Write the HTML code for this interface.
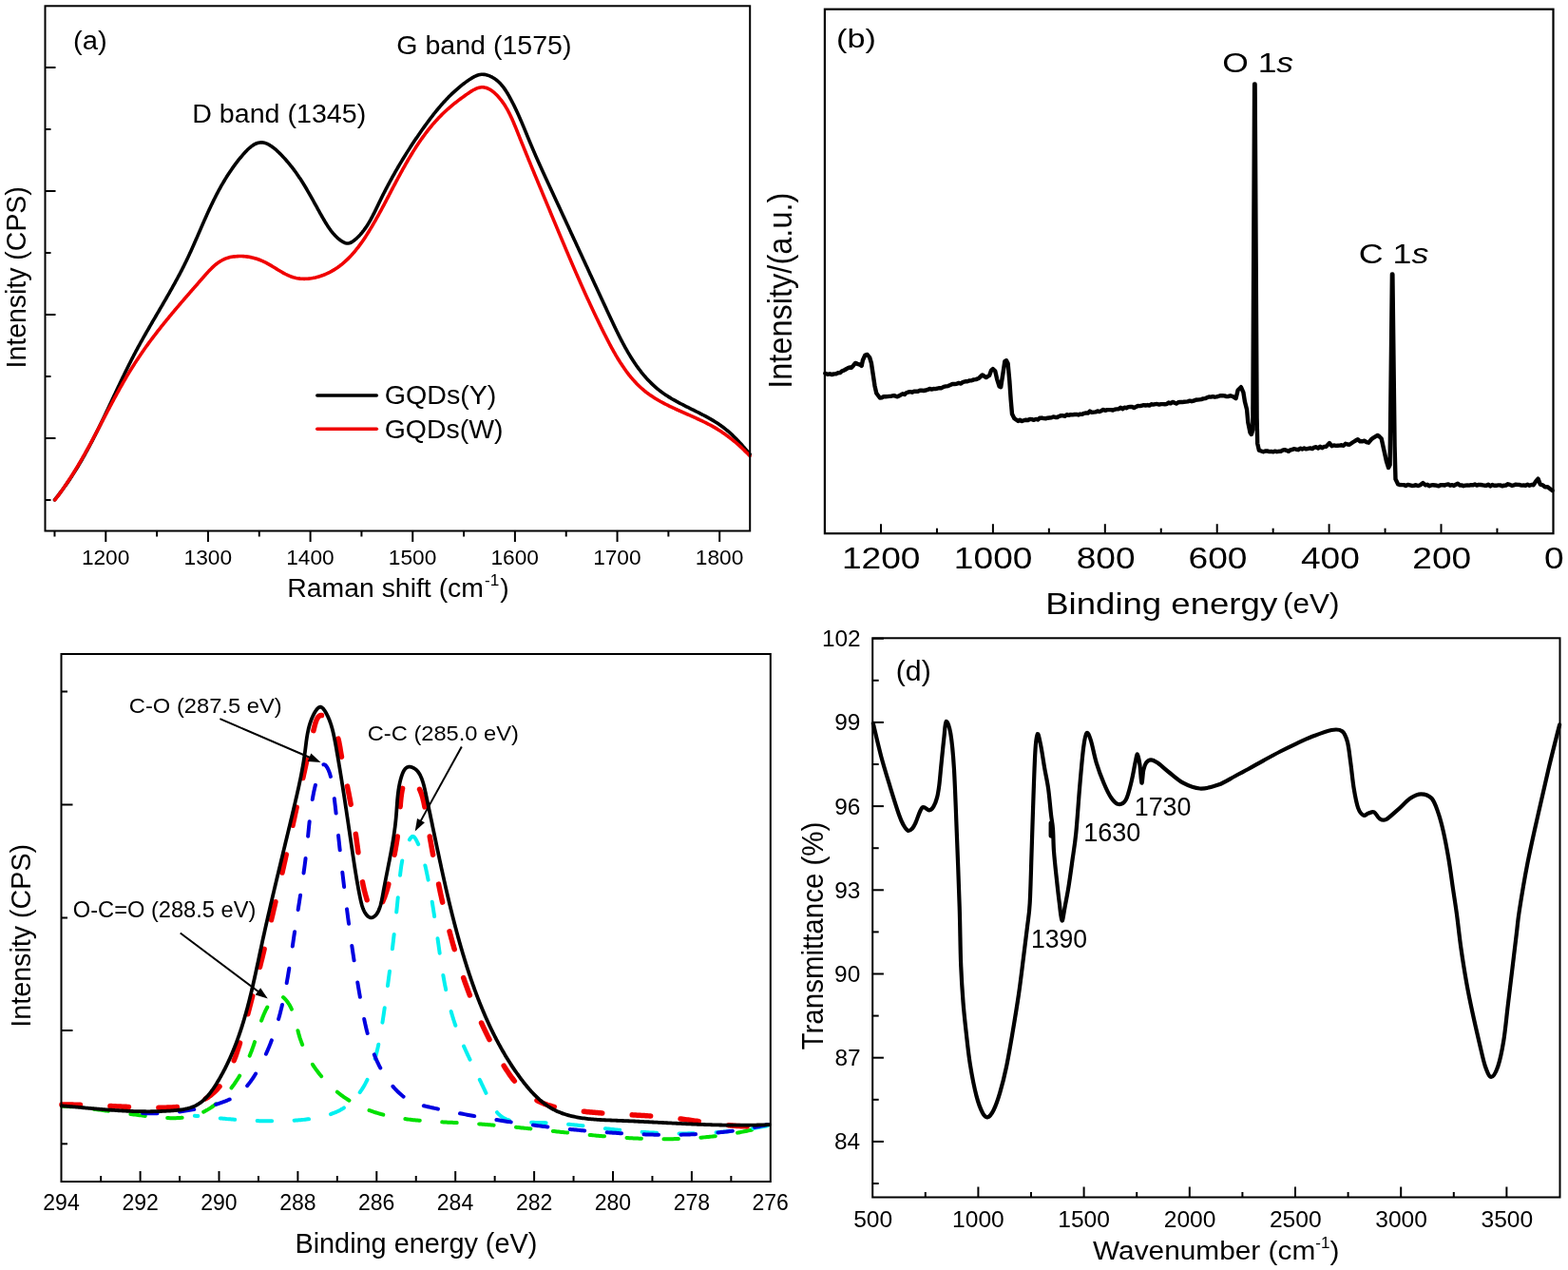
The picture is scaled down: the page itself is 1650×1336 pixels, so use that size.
<!DOCTYPE html><html><head><meta charset="utf-8"><style>html,body{margin:0;padding:0;background:#fff;}body{width:1650px;height:1336px;overflow:hidden;}svg{display:block;}</style></head><body>
<svg width="1650" height="1336" viewBox="0 0 1650 1336" font-family="'Liberation Sans', Arial, sans-serif">
<path d="M57.5,525.83 L58.46,524.65 L59.41,523.46 L60.35,522.26 L61.28,521.06 L62.21,519.86 L63.13,518.65 L64.04,517.44 L64.95,516.23 L65.84,515.01 L66.73,513.79 L67.62,512.56 L68.49,511.33 L69.36,510.1 L70.23,508.86 L71.08,507.62 L71.93,506.38 L72.78,505.13 L73.61,503.89 L74.44,502.63 L75.27,501.38 L76.09,500.12 L76.9,498.86 L77.71,497.59 L78.51,496.32 L79.31,495.05 L80.1,493.78 L80.88,492.5 L81.66,491.22 L82.44,489.94 L83.21,488.65 L83.97,487.37 L84.73,486.08 L85.49,484.78 L86.24,483.49 L86.98,482.19 L87.73,480.89 L88.46,479.59 L89.19,478.28 L89.92,476.97 L90.65,475.66 L91.37,474.35 L92.08,473.04 L92.8,471.72 L93.5,470.41 L94.21,469.09 L94.91,467.76 L95.61,466.44 L96.3,465.12 L97,463.79 L97.68,462.46 L98.37,461.13 L99.05,459.8 L99.73,458.46 L100.41,457.13 L101.08,455.79 L101.75,454.46 L102.42,453.12 L103.09,451.78 L103.75,450.43 L104.41,449.09 L105.07,447.75 L105.73,446.4 L106.39,445.05 L107.04,443.71 L107.69,442.36 L108.35,441.01 L109,439.66 L109.64,438.31 L110.29,436.95 L110.94,435.6 L111.58,434.25 L112.22,432.89 L112.87,431.54 L113.51,430.19 L114.15,428.83 L114.79,427.47 L115.43,426.12 L116.07,424.76 L116.71,423.4 L117.35,422.05 L117.98,420.69 L118.62,419.33 L119.26,417.97 L119.9,416.62 L120.54,415.26 L121.18,413.9 L121.82,412.54 L122.46,411.19 L123.1,409.83 L123.74,408.47 L124.38,407.11 L125.03,405.76 L125.67,404.4 L126.31,403.05 L126.96,401.69 L127.61,400.34 L128.26,398.98 L128.91,397.63 L129.56,396.28 L130.22,394.93 L130.87,393.58 L131.53,392.23 L132.19,390.88 L132.85,389.53 L133.52,388.18 L134.18,386.83 L134.85,385.49 L135.52,384.14 L136.19,382.8 L136.87,381.46 L137.55,380.12 L138.23,378.78 L138.92,377.44 L139.61,376.11 L140.3,374.77 L140.99,373.44 L141.69,372.11 L142.39,370.78 L143.09,369.45 L143.8,368.12 L144.51,366.8 L145.23,365.47 L145.95,364.15 L146.67,362.83 L147.39,361.51 L148.12,360.2 L148.85,358.88 L149.59,357.57 L150.32,356.25 L151.06,354.94 L151.8,353.63 L152.54,352.32 L153.29,351.01 L154.03,349.7 L154.78,348.4 L155.53,347.09 L156.28,345.78 L157.04,344.48 L157.79,343.17 L158.55,341.87 L159.3,340.57 L160.06,339.27 L160.82,337.96 L161.58,336.66 L162.34,335.36 L163.1,334.06 L163.86,332.76 L164.62,331.46 L165.38,330.16 L166.14,328.86 L166.9,327.56 L167.66,326.26 L168.42,324.96 L169.18,323.66 L169.94,322.36 L170.7,321.06 L171.46,319.76 L172.21,318.46 L172.97,317.15 L173.72,315.85 L174.48,314.55 L175.23,313.25 L175.98,311.94 L176.72,310.64 L177.47,309.33 L178.21,308.03 L178.96,306.72 L179.69,305.41 L180.43,304.1 L181.17,302.79 L181.9,301.48 L182.63,300.17 L183.36,298.86 L184.08,297.54 L184.8,296.23 L185.52,294.91 L186.23,293.59 L186.94,292.27 L187.65,290.95 L188.35,289.63 L189.05,288.3 L189.75,286.97 L190.44,285.65 L191.13,284.32 L191.81,282.98 L192.49,281.65 L193.16,280.32 L193.83,278.98 L194.5,277.64 L195.16,276.3 L195.81,274.95 L196.46,273.61 L197.1,272.26 L197.74,270.91 L198.38,269.56 L199.01,268.2 L199.64,266.85 L200.26,265.49 L200.88,264.13 L201.5,262.77 L202.11,261.41 L202.72,260.04 L203.33,258.68 L203.94,257.31 L204.54,255.95 L205.14,254.58 L205.74,253.21 L206.34,251.84 L206.94,250.47 L207.54,249.1 L208.13,247.73 L208.73,246.36 L209.32,244.99 L209.92,243.62 L210.51,242.25 L211.11,240.88 L211.7,239.51 L212.3,238.13 L212.9,236.76 L213.5,235.39 L214.1,234.02 L214.7,232.65 L215.3,231.29 L215.91,229.92 L216.52,228.55 L217.13,227.18 L217.74,225.82 L218.36,224.46 L218.98,223.09 L219.61,221.73 L220.24,220.37 L220.87,219.01 L221.5,217.66 L222.15,216.3 L222.79,214.95 L223.44,213.6 L224.1,212.25 L224.76,210.9 L225.43,209.55 L226.1,208.21 L226.78,206.87 L227.47,205.53 L228.16,204.2 L228.86,202.86 L229.56,201.53 L230.27,200.21 L231,198.88 L231.72,197.56 L232.46,196.24 L233.2,194.92 L233.96,193.61 L234.72,192.3 L235.49,191 L236.27,189.7 L237.06,188.4 L237.86,187.1 L238.66,185.81 L239.48,184.53 L240.31,183.24 L241.15,181.97 L242,180.69 L242.86,179.42 L243.73,178.15 L244.61,176.89 L245.51,175.64 L246.41,174.38 L247.33,173.14 L248.26,171.9 L249.21,170.66 L250.16,169.43 L251.13,168.2 L252.11,166.98 L253.11,165.76 L254.12,164.55 L255.14,163.34 L256.18,162.14 L257.23,160.96 L258.29,159.8 L259.37,158.66 L260.46,157.57 L261.57,156.51 L262.68,155.51 L263.81,154.56 L264.96,153.68 L266.11,152.87 L267.27,152.14 L268.45,151.5 L269.64,150.95 L270.84,150.5 L272.05,150.15 L273.27,149.92 L274.5,149.82 L275.74,149.84 L276.99,149.99 L278.25,150.26 L279.51,150.65 L280.77,151.14 L282.04,151.73 L283.31,152.41 L284.58,153.17 L285.84,154.01 L287.09,154.92 L288.34,155.89 L289.58,156.92 L290.81,157.98 L292.03,159.09 L293.23,160.23 L294.41,161.39 L295.58,162.57 L296.72,163.76 L297.85,164.95 L298.95,166.14 L300.03,167.33 L301.09,168.52 L302.13,169.72 L303.16,170.91 L304.16,172.11 L305.15,173.31 L306.11,174.51 L307.07,175.72 L308,176.92 L308.92,178.13 L309.83,179.34 L310.72,180.55 L311.59,181.77 L312.45,182.98 L313.3,184.2 L314.14,185.42 L314.97,186.65 L315.78,187.87 L316.59,189.1 L317.38,190.34 L318.17,191.57 L318.94,192.81 L319.71,194.05 L320.47,195.29 L321.23,196.54 L321.97,197.79 L322.72,199.04 L323.45,200.29 L324.18,201.55 L324.91,202.81 L325.63,204.08 L326.35,205.35 L327.07,206.62 L327.79,207.9 L328.5,209.18 L329.22,210.46 L329.93,211.75 L330.65,213.04 L331.36,214.33 L332.08,215.63 L332.8,216.93 L333.52,218.24 L334.24,219.55 L334.97,220.86 L335.71,222.18 L336.45,223.51 L337.19,224.83 L337.94,226.16 L338.7,227.5 L339.46,228.84 L340.24,230.19 L341.02,231.53 L341.81,232.88 L342.62,234.22 L343.44,235.56 L344.28,236.88 L345.13,238.19 L346,239.49 L346.9,240.78 L347.81,242.04 L348.75,243.28 L349.72,244.49 L350.71,245.67 L351.73,246.83 L352.78,247.95 L353.86,249.03 L354.98,250.08 L356.13,251.08 L357.31,252.04 L358.53,252.95 L359.8,253.81 L361.09,254.58 L362.4,255.22 L363.72,255.7 L365.05,255.98 L366.36,256 L367.65,255.77 L368.93,255.3 L370.18,254.64 L371.4,253.85 L372.59,252.96 L373.75,252.01 L374.87,251.03 L375.97,250.03 L377.03,249 L378.06,247.94 L379.07,246.86 L380.05,245.75 L381,244.63 L381.92,243.48 L382.83,242.31 L383.7,241.12 L384.56,239.91 L385.4,238.68 L386.21,237.44 L387.01,236.18 L387.8,234.91 L388.56,233.62 L389.31,232.33 L390.05,231.01 L390.77,229.69 L391.49,228.36 L392.19,227.02 L392.88,225.67 L393.57,224.32 L394.25,222.96 L394.92,221.59 L395.59,220.22 L396.25,218.85 L396.92,217.48 L397.58,216.1 L398.24,214.73 L398.9,213.35 L399.57,211.98 L400.24,210.61 L400.91,209.25 L401.58,207.88 L402.26,206.52 L402.94,205.17 L403.63,203.81 L404.32,202.46 L405.01,201.11 L405.7,199.77 L406.4,198.42 L407.1,197.08 L407.81,195.75 L408.52,194.41 L409.23,193.08 L409.94,191.75 L410.66,190.42 L411.38,189.1 L412.11,187.78 L412.84,186.46 L413.57,185.15 L414.3,183.83 L415.04,182.52 L415.78,181.22 L416.53,179.91 L417.27,178.61 L418.03,177.31 L418.78,176.01 L419.54,174.72 L420.3,173.43 L421.07,172.14 L421.83,170.85 L422.61,169.57 L423.38,168.28 L424.16,167 L424.94,165.73 L425.73,164.45 L426.52,163.18 L427.31,161.91 L428.1,160.64 L428.9,159.38 L429.7,158.12 L430.51,156.86 L431.32,155.6 L432.13,154.35 L432.95,153.09 L433.77,151.84 L434.59,150.6 L435.42,149.35 L436.25,148.11 L437.08,146.87 L437.92,145.63 L438.76,144.39 L439.6,143.16 L440.45,141.92 L441.3,140.69 L442.15,139.47 L443.01,138.24 L443.87,137.02 L444.73,135.8 L445.6,134.58 L446.47,133.36 L447.35,132.15 L448.23,130.94 L449.11,129.73 L450,128.52 L450.89,127.32 L451.79,126.12 L452.69,124.92 L453.59,123.73 L454.51,122.54 L455.42,121.36 L456.35,120.18 L457.28,119 L458.21,117.83 L459.16,116.67 L460.11,115.51 L461.06,114.35 L462.03,113.21 L463,112.07 L463.98,110.93 L464.97,109.8 L465.96,108.68 L466.97,107.56 L467.98,106.46 L469.01,105.36 L470.04,104.26 L471.08,103.18 L472.13,102.1 L473.19,101.03 L474.26,99.97 L475.35,98.92 L476.44,97.88 L477.55,96.85 L478.66,95.83 L479.79,94.81 L480.93,93.81 L482.08,92.82 L483.24,91.83 L484.42,90.86 L485.6,89.9 L486.81,88.95 L488.02,88.02 L489.25,87.09 L490.49,86.17 L491.75,85.27 L493.02,84.38 L494.3,83.51 L495.6,82.66 L496.91,81.85 L498.24,81.09 L499.59,80.39 L500.95,79.77 L502.32,79.24 L503.71,78.82 L505.12,78.51 L506.55,78.32 L507.99,78.28 L509.45,78.37 L510.9,78.59 L512.35,78.93 L513.79,79.37 L515.2,79.9 L516.58,80.52 L517.93,81.2 L519.22,81.95 L520.47,82.75 L521.68,83.61 L522.84,84.53 L523.97,85.49 L525.05,86.5 L526.11,87.55 L527.12,88.64 L528.11,89.77 L529.06,90.94 L529.98,92.14 L530.88,93.37 L531.74,94.62 L532.59,95.89 L533.41,97.19 L534.21,98.51 L534.99,99.83 L535.75,101.18 L536.5,102.52 L537.23,103.88 L537.96,105.24 L538.66,106.59 L539.36,107.95 L540.05,109.31 L540.73,110.67 L541.4,112.03 L542.06,113.39 L542.71,114.76 L543.35,116.12 L543.99,117.48 L544.61,118.85 L545.24,120.21 L545.85,121.58 L546.46,122.94 L547.06,124.31 L547.66,125.67 L548.25,127.04 L548.83,128.41 L549.42,129.78 L550,131.15 L550.57,132.52 L551.15,133.89 L551.72,135.26 L552.29,136.63 L552.86,138 L553.42,139.37 L553.99,140.75 L554.55,142.12 L555.12,143.49 L555.68,144.87 L556.25,146.24 L556.82,147.62 L557.39,148.99 L557.96,150.37 L558.54,151.74 L559.12,153.12 L559.7,154.5 L560.28,155.88 L560.87,157.26 L561.46,158.63 L562.06,160.01 L562.65,161.39 L563.25,162.77 L563.86,164.15 L564.46,165.53 L565.07,166.91 L565.68,168.29 L566.29,169.67 L566.91,171.05 L567.53,172.43 L568.15,173.81 L568.77,175.19 L569.39,176.57 L570.01,177.95 L570.64,179.33 L571.27,180.71 L571.9,182.09 L572.53,183.47 L573.16,184.85 L573.79,186.23 L574.43,187.6 L575.06,188.98 L575.7,190.36 L576.33,191.73 L576.97,193.11 L577.61,194.49 L578.24,195.86 L578.88,197.23 L579.52,198.61 L580.16,199.98 L580.79,201.35 L581.43,202.72 L582.07,204.09 L582.7,205.46 L583.34,206.83 L583.98,208.2 L584.61,209.57 L585.24,210.93 L585.88,212.3 L586.51,213.66 L587.14,215.03 L587.78,216.39 L588.41,217.75 L589.04,219.11 L589.67,220.48 L590.3,221.84 L590.93,223.19 L591.56,224.55 L592.19,225.91 L592.82,227.27 L593.45,228.63 L594.07,229.98 L594.7,231.34 L595.33,232.7 L595.96,234.05 L596.58,235.41 L597.21,236.76 L597.84,238.11 L598.46,239.47 L599.09,240.82 L599.71,242.17 L600.34,243.53 L600.96,244.88 L601.59,246.23 L602.21,247.58 L602.84,248.94 L603.46,250.29 L604.09,251.64 L604.71,252.99 L605.33,254.34 L605.96,255.69 L606.58,257.04 L607.21,258.39 L607.83,259.74 L608.45,261.1 L609.08,262.45 L609.7,263.8 L610.33,265.15 L610.95,266.5 L611.57,267.85 L612.2,269.2 L612.82,270.55 L613.45,271.91 L614.07,273.26 L614.7,274.61 L615.32,275.96 L615.95,277.31 L616.57,278.67 L617.2,280.02 L617.82,281.37 L618.45,282.73 L619.07,284.08 L619.7,285.44 L620.33,286.79 L620.95,288.15 L621.58,289.51 L622.21,290.86 L622.84,292.22 L623.46,293.58 L624.09,294.94 L624.72,296.29 L625.35,297.65 L625.98,299.01 L626.61,300.37 L627.24,301.74 L627.87,303.1 L628.5,304.46 L629.13,305.83 L629.77,307.19 L630.4,308.56 L631.03,309.92 L631.67,311.29 L632.3,312.66 L632.94,314.02 L633.57,315.39 L634.21,316.77 L634.85,318.14 L635.48,319.51 L636.12,320.88 L636.76,322.26 L637.4,323.63 L638.04,325.01 L638.68,326.39 L639.32,327.77 L639.96,329.15 L640.61,330.53 L641.25,331.91 L641.89,333.29 L642.54,334.68 L643.19,336.06 L643.84,337.45 L644.49,338.83 L645.14,340.22 L645.8,341.6 L646.45,342.98 L647.11,344.36 L647.78,345.74 L648.44,347.12 L649.11,348.5 L649.79,349.87 L650.46,351.24 L651.15,352.61 L651.83,353.98 L652.52,355.34 L653.22,356.7 L653.92,358.06 L654.62,359.41 L655.33,360.75 L656.05,362.1 L656.77,363.43 L657.5,364.77 L658.23,366.09 L658.97,367.42 L659.72,368.73 L660.47,370.04 L661.24,371.34 L662,372.64 L662.78,373.93 L663.56,375.21 L664.36,376.49 L665.16,377.75 L665.97,379.01 L666.78,380.26 L667.61,381.51 L668.45,382.74 L669.29,383.96 L670.15,385.18 L671.01,386.38 L671.89,387.58 L672.77,388.77 L673.67,389.94 L674.57,391.11 L675.49,392.26 L676.42,393.4 L677.36,394.53 L678.31,395.65 L679.27,396.76 L680.25,397.85 L681.23,398.94 L682.23,400.01 L683.25,401.06 L684.27,402.11 L685.31,403.14 L686.36,404.15 L687.43,405.16 L688.51,406.15 L689.6,407.12 L690.71,408.08 L691.83,409.02 L692.96,409.95 L694.12,410.86 L695.28,411.76 L696.46,412.64 L697.66,413.5 L698.87,414.35 L700.1,415.19 L701.34,416.01 L702.59,416.82 L703.85,417.61 L705.13,418.39 L706.41,419.17 L707.71,419.93 L709.01,420.68 L710.33,421.42 L711.65,422.15 L712.98,422.88 L714.32,423.6 L715.66,424.31 L717.01,425.01 L718.36,425.71 L719.72,426.41 L721.09,427.1 L722.45,427.79 L723.82,428.47 L725.19,429.16 L726.57,429.84 L727.94,430.52 L729.31,431.2 L730.69,431.89 L732.06,432.57 L733.43,433.26 L734.8,433.94 L736.17,434.64 L737.53,435.33 L738.89,436.03 L740.24,436.74 L741.59,437.45 L742.93,438.17 L744.26,438.9 L745.59,439.63 L746.91,440.37 L748.23,441.12 L749.53,441.89 L750.82,442.66 L752.1,443.44 L753.38,444.24 L754.64,445.05 L755.88,445.87 L757.12,446.71 L758.34,447.56 L759.55,448.43 L760.74,449.31 L761.92,450.21 L763.09,451.12 L764.24,452.05 L765.38,452.99 L766.5,453.95 L767.62,454.93 L768.72,455.91 L769.81,456.91 L770.89,457.92 L771.96,458.95 L773.02,459.99 L774.07,461.04 L775.12,462.1 L776.15,463.17 L777.18,464.25 L778.2,465.35 L779.22,466.45 L780.23,467.56 L781.23,468.69 L782.23,469.82 L783.22,470.96 L784.21,472.11 L785.2,473.26 L786.18,474.43 L787.16,475.6 L788.14,476.78 L789.12,477.96" fill="none" stroke="#000" stroke-width="3.6" stroke-linejoin="round" stroke-linecap="round"/>
<path d="M57.79,525.89 L58.71,524.7 L59.62,523.5 L60.53,522.3 L61.43,521.09 L62.32,519.89 L63.21,518.67 L64.09,517.46 L64.96,516.23 L65.83,515.01 L66.69,513.78 L67.55,512.55 L68.4,511.31 L69.24,510.07 L70.08,508.83 L70.92,507.58 L71.74,506.33 L72.57,505.08 L73.39,503.82 L74.2,502.56 L75.01,501.3 L75.81,500.03 L76.61,498.77 L77.4,497.49 L78.19,496.22 L78.98,494.94 L79.76,493.66 L80.54,492.38 L81.31,491.09 L82.08,489.81 L82.84,488.52 L83.61,487.22 L84.36,485.93 L85.12,484.63 L85.87,483.33 L86.62,482.03 L87.36,480.73 L88.1,479.42 L88.84,478.12 L89.58,476.81 L90.31,475.5 L91.04,474.18 L91.77,472.87 L92.49,471.56 L93.21,470.24 L93.93,468.92 L94.65,467.6 L95.37,466.28 L96.08,464.96 L96.8,463.63 L97.51,462.31 L98.22,460.98 L98.93,459.66 L99.63,458.33 L100.34,457 L101.04,455.67 L101.74,454.34 L102.45,453.01 L103.15,451.68 L103.85,450.35 L104.55,449.02 L105.25,447.69 L105.95,446.36 L106.64,445.02 L107.34,443.69 L108.04,442.36 L108.74,441.03 L109.44,439.69 L110.14,438.36 L110.84,437.03 L111.54,435.7 L112.24,434.37 L112.94,433.03 L113.64,431.7 L114.34,430.37 L115.04,429.04 L115.75,427.71 L116.45,426.39 L117.16,425.06 L117.87,423.73 L118.58,422.41 L119.29,421.08 L120,419.76 L120.71,418.44 L121.43,417.12 L122.15,415.8 L122.87,414.48 L123.59,413.16 L124.32,411.85 L125.05,410.53 L125.78,409.22 L126.51,407.91 L127.24,406.6 L127.98,405.29 L128.72,403.99 L129.47,402.68 L130.22,401.38 L130.97,400.08 L131.72,398.79 L132.48,397.49 L133.24,396.2 L134.01,394.91 L134.78,393.62 L135.55,392.34 L136.33,391.06 L137.11,389.78 L137.89,388.5 L138.68,387.22 L139.48,385.95 L140.28,384.68 L141.08,383.42 L141.89,382.15 L142.7,380.9 L143.52,379.64 L144.34,378.39 L145.17,377.14 L146,375.89 L146.84,374.64 L147.68,373.4 L148.53,372.17 L149.38,370.93 L150.24,369.7 L151.1,368.47 L151.97,367.24 L152.83,366.02 L153.71,364.8 L154.59,363.58 L155.47,362.36 L156.35,361.15 L157.24,359.94 L158.14,358.73 L159.04,357.53 L159.94,356.32 L160.84,355.12 L161.75,353.92 L162.66,352.73 L163.58,351.53 L164.5,350.34 L165.42,349.15 L166.34,347.97 L167.27,346.78 L168.2,345.6 L169.14,344.42 L170.08,343.24 L171.02,342.06 L171.96,340.88 L172.9,339.71 L173.85,338.54 L174.8,337.37 L175.76,336.2 L176.71,335.03 L177.67,333.87 L178.63,332.7 L179.59,331.54 L180.56,330.38 L181.53,329.22 L182.5,328.06 L183.47,326.91 L184.44,325.75 L185.41,324.6 L186.39,323.45 L187.37,322.3 L188.35,321.15 L189.33,320 L190.31,318.85 L191.29,317.7 L192.28,316.55 L193.26,315.41 L194.25,314.27 L195.24,313.12 L196.23,311.98 L197.22,310.84 L198.21,309.7 L199.2,308.56 L200.19,307.42 L201.18,306.28 L202.18,305.14 L203.17,304 L204.16,302.86 L205.16,301.72 L206.15,300.59 L207.15,299.45 L208.14,298.31 L209.14,297.18 L210.13,296.04 L211.13,294.91 L212.12,293.77 L213.11,292.64 L214.11,291.5 L215.1,290.37 L216.1,289.23 L217.09,288.11 L218.1,286.99 L219.11,285.88 L220.13,284.78 L221.16,283.7 L222.2,282.65 L223.26,281.61 L224.33,280.6 L225.42,279.61 L226.53,278.66 L227.66,277.74 L228.82,276.85 L230,276.01 L231.21,275.21 L232.45,274.45 L233.73,273.73 L235.03,273.07 L236.37,272.46 L237.75,271.91 L239.16,271.42 L240.62,270.98 L242.11,270.61 L243.64,270.3 L245.19,270.04 L246.76,269.84 L248.34,269.69 L249.93,269.59 L251.51,269.53 L253.09,269.53 L254.65,269.56 L256.2,269.64 L257.72,269.75 L259.24,269.91 L260.73,270.1 L262.21,270.34 L263.67,270.61 L265.13,270.92 L266.56,271.26 L267.99,271.65 L269.4,272.07 L270.8,272.52 L272.2,273.01 L273.58,273.53 L274.95,274.09 L276.32,274.68 L277.67,275.3 L279.02,275.95 L280.36,276.63 L281.7,277.35 L283.03,278.09 L284.36,278.85 L285.69,279.64 L287.01,280.43 L288.33,281.24 L289.65,282.06 L290.97,282.87 L292.3,283.68 L293.62,284.49 L294.95,285.28 L296.28,286.06 L297.62,286.82 L298.96,287.55 L300.31,288.26 L301.66,288.93 L303.03,289.57 L304.4,290.17 L305.78,290.72 L307.18,291.22 L308.58,291.66 L310,292.06 L311.43,292.39 L312.86,292.68 L314.31,292.91 L315.76,293.09 L317.22,293.22 L318.69,293.3 L320.16,293.33 L321.63,293.31 L323.11,293.25 L324.58,293.14 L326.06,292.99 L327.53,292.8 L329.01,292.56 L330.48,292.28 L331.94,291.97 L333.4,291.61 L334.85,291.21 L336.3,290.78 L337.74,290.32 L339.17,289.81 L340.58,289.28 L341.99,288.71 L343.38,288.11 L344.76,287.48 L346.12,286.82 L347.47,286.13 L348.8,285.41 L350.11,284.66 L351.4,283.89 L352.68,283.1 L353.93,282.28 L355.17,281.44 L356.39,280.57 L357.59,279.69 L358.77,278.78 L359.94,277.85 L361.08,276.89 L362.22,275.92 L363.33,274.93 L364.43,273.92 L365.52,272.89 L366.58,271.85 L367.64,270.78 L368.68,269.7 L369.7,268.61 L370.71,267.5 L371.71,266.37 L372.69,265.23 L373.66,264.08 L374.62,262.91 L375.57,261.74 L376.5,260.55 L377.42,259.34 L378.33,258.13 L379.23,256.91 L380.12,255.68 L381,254.44 L381.86,253.19 L382.72,251.94 L383.57,250.68 L384.41,249.41 L385.24,248.13 L386.06,246.85 L386.87,245.57 L387.68,244.28 L388.48,242.99 L389.27,241.69 L390.05,240.4 L390.83,239.1 L391.6,237.8 L392.37,236.5 L393.13,235.2 L393.88,233.9 L394.63,232.59 L395.37,231.29 L396.11,229.98 L396.84,228.67 L397.57,227.36 L398.3,226.06 L399.02,224.74 L399.74,223.43 L400.45,222.12 L401.16,220.81 L401.87,219.49 L402.58,218.18 L403.28,216.86 L403.98,215.55 L404.68,214.23 L405.38,212.91 L406.07,211.59 L406.77,210.27 L407.46,208.95 L408.15,207.63 L408.85,206.31 L409.54,204.99 L410.23,203.66 L410.92,202.34 L411.61,201.02 L412.31,199.69 L413,198.37 L413.69,197.04 L414.39,195.72 L415.09,194.39 L415.79,193.06 L416.49,191.74 L417.19,190.41 L417.9,189.08 L418.61,187.76 L419.32,186.43 L420.03,185.1 L420.75,183.77 L421.47,182.45 L422.2,181.12 L422.92,179.8 L423.66,178.47 L424.39,177.15 L425.13,175.83 L425.87,174.51 L426.62,173.2 L427.37,171.88 L428.13,170.57 L428.89,169.26 L429.65,167.96 L430.42,166.65 L431.2,165.35 L431.97,164.05 L432.76,162.76 L433.55,161.47 L434.34,160.18 L435.14,158.9 L435.95,157.62 L436.76,156.35 L437.58,155.08 L438.4,153.81 L439.23,152.56 L440.07,151.3 L440.91,150.05 L441.76,148.81 L442.62,147.57 L443.48,146.34 L444.35,145.12 L445.23,143.9 L446.11,142.68 L447,141.48 L447.9,140.28 L448.81,139.09 L449.72,137.9 L450.64,136.73 L451.57,135.56 L452.51,134.39 L453.46,133.24 L454.41,132.1 L455.37,130.96 L456.34,129.83 L457.32,128.71 L458.31,127.6 L459.31,126.5 L460.32,125.41 L461.33,124.32 L462.36,123.25 L463.39,122.19 L464.44,121.14 L465.49,120.09 L466.56,119.06 L467.63,118.04 L468.71,117.03 L469.81,116.03 L470.92,115.03 L472.03,114.04 L473.16,113.06 L474.3,112.09 L475.46,111.12 L476.62,110.16 L477.8,109.21 L478.99,108.25 L480.2,107.31 L481.41,106.36 L482.65,105.42 L483.89,104.48 L485.15,103.54 L486.43,102.6 L487.72,101.67 L489.02,100.73 L490.34,99.8 L491.68,98.86 L493.03,97.92 L494.4,97.01 L495.77,96.12 L497.15,95.28 L498.53,94.49 L499.92,93.78 L501.3,93.16 L502.68,92.63 L504.05,92.22 L505.41,91.93 L506.76,91.78 L508.09,91.78 L509.41,91.91 L510.71,92.16 L511.99,92.53 L513.25,93.01 L514.49,93.59 L515.71,94.26 L516.91,95.02 L518.08,95.85 L519.23,96.75 L520.36,97.71 L521.45,98.72 L522.52,99.77 L523.57,100.86 L524.58,101.97 L525.56,103.11 L526.51,104.27 L527.44,105.44 L528.34,106.63 L529.21,107.85 L530.06,109.07 L530.88,110.32 L531.68,111.58 L532.46,112.85 L533.22,114.14 L533.96,115.44 L534.68,116.76 L535.38,118.09 L536.07,119.42 L536.74,120.77 L537.4,122.13 L538.04,123.5 L538.67,124.87 L539.29,126.25 L539.9,127.64 L540.5,129.04 L541.09,130.44 L541.68,131.84 L542.26,133.25 L542.83,134.66 L543.41,136.07 L543.97,137.49 L544.54,138.9 L545.11,140.32 L545.67,141.73 L546.24,143.15 L546.81,144.56 L547.37,145.98 L547.94,147.39 L548.51,148.8 L549.08,150.21 L549.65,151.62 L550.22,153.03 L550.79,154.44 L551.36,155.84 L551.93,157.25 L552.5,158.66 L553.08,160.06 L553.65,161.47 L554.22,162.87 L554.79,164.27 L555.37,165.67 L555.94,167.08 L556.51,168.48 L557.09,169.88 L557.66,171.28 L558.24,172.68 L558.81,174.08 L559.39,175.47 L559.96,176.87 L560.54,178.27 L561.11,179.66 L561.69,181.06 L562.27,182.45 L562.84,183.85 L563.42,185.24 L564,186.64 L564.57,188.03 L565.15,189.42 L565.73,190.81 L566.3,192.2 L566.88,193.59 L567.46,194.98 L568.03,196.37 L568.61,197.76 L569.19,199.15 L569.76,200.54 L570.34,201.93 L570.92,203.32 L571.49,204.7 L572.07,206.09 L572.65,207.47 L573.22,208.86 L573.8,210.25 L574.38,211.63 L574.95,213.02 L575.53,214.4 L576.1,215.78 L576.68,217.17 L577.26,218.55 L577.83,219.93 L578.41,221.31 L578.98,222.7 L579.56,224.08 L580.13,225.46 L580.7,226.84 L581.28,228.22 L581.85,229.6 L582.43,230.98 L583,232.36 L583.58,233.74 L584.15,235.12 L584.72,236.5 L585.3,237.88 L585.87,239.26 L586.45,240.63 L587.02,242.01 L587.6,243.39 L588.17,244.77 L588.75,246.14 L589.33,247.52 L589.9,248.9 L590.48,250.27 L591.06,251.65 L591.63,253.03 L592.21,254.4 L592.79,255.78 L593.37,257.15 L593.95,258.53 L594.53,259.9 L595.11,261.27 L595.69,262.65 L596.27,264.02 L596.86,265.4 L597.44,266.77 L598.02,268.14 L598.61,269.52 L599.2,270.89 L599.78,272.26 L600.37,273.64 L600.96,275.01 L601.55,276.38 L602.14,277.75 L602.73,279.12 L603.32,280.5 L603.92,281.87 L604.51,283.24 L605.11,284.61 L605.7,285.98 L606.3,287.35 L606.9,288.72 L607.5,290.09 L608.1,291.46 L608.71,292.83 L609.31,294.21 L609.92,295.58 L610.52,296.95 L611.13,298.32 L611.74,299.69 L612.35,301.06 L612.97,302.42 L613.58,303.79 L614.2,305.16 L614.81,306.53 L615.43,307.9 L616.05,309.27 L616.68,310.64 L617.3,312.01 L617.93,313.38 L618.55,314.75 L619.18,316.12 L619.81,317.49 L620.45,318.85 L621.08,320.22 L621.72,321.59 L622.36,322.96 L623,324.33 L623.64,325.7 L624.29,327.07 L624.93,328.43 L625.58,329.8 L626.23,331.17 L626.88,332.54 L627.54,333.91 L628.2,335.28 L628.86,336.64 L629.52,338.01 L630.18,339.38 L630.85,340.75 L631.52,342.12 L632.19,343.49 L632.86,344.85 L633.54,346.22 L634.22,347.59 L634.9,348.96 L635.58,350.33 L636.27,351.7 L636.96,353.06 L637.65,354.43 L638.35,355.8 L639.05,357.16 L639.75,358.53 L640.46,359.89 L641.17,361.25 L641.88,362.6 L642.6,363.95 L643.33,365.3 L644.06,366.65 L644.8,367.99 L645.54,369.32 L646.29,370.65 L647.05,371.98 L647.81,373.3 L648.58,374.61 L649.36,375.92 L650.14,377.22 L650.94,378.51 L651.74,379.8 L652.54,381.08 L653.36,382.35 L654.19,383.61 L655.02,384.86 L655.87,386.1 L656.72,387.34 L657.58,388.56 L658.46,389.78 L659.34,390.98 L660.23,392.17 L661.14,393.35 L662.06,394.52 L662.98,395.67 L663.92,396.82 L664.87,397.95 L665.84,399.07 L666.81,400.17 L667.8,401.26 L668.8,402.34 L669.82,403.4 L670.85,404.45 L671.89,405.48 L672.94,406.49 L674.01,407.49 L675.1,408.48 L676.2,409.44 L677.31,410.39 L678.44,411.32 L679.58,412.24 L680.74,413.14 L681.92,414.01 L683.11,414.88 L684.31,415.72 L685.53,416.56 L686.76,417.37 L688,418.17 L689.25,418.96 L690.52,419.73 L691.8,420.5 L693.09,421.25 L694.38,421.98 L695.69,422.71 L697.01,423.43 L698.34,424.13 L699.67,424.83 L701.01,425.51 L702.36,426.19 L703.72,426.86 L705.08,427.53 L706.45,428.18 L707.82,428.84 L709.2,429.48 L710.58,430.12 L711.97,430.75 L713.36,431.39 L714.75,432.01 L716.15,432.64 L717.55,433.26 L718.95,433.88 L720.35,434.5 L721.75,435.12 L723.15,435.74 L724.55,436.35 L725.95,436.97 L727.35,437.59 L728.75,438.22 L730.15,438.84 L731.54,439.47 L732.93,440.1 L734.32,440.74 L735.7,441.38 L737.08,442.02 L738.45,442.68 L739.82,443.33 L741.18,444 L742.53,444.67 L743.88,445.35 L745.22,446.04 L746.55,446.74 L747.87,447.44 L749.19,448.16 L750.49,448.89 L751.79,449.63 L753.07,450.38 L754.35,451.15 L755.61,451.92 L756.87,452.71 L758.12,453.51 L759.35,454.32 L760.58,455.14 L761.8,455.98 L763.01,456.83 L764.21,457.68 L765.4,458.55 L766.59,459.44 L767.77,460.33 L768.94,461.24 L770.1,462.16 L771.26,463.09 L772.41,464.03 L773.55,464.98 L774.69,465.95 L775.82,466.92 L776.95,467.91 L778.07,468.91 L779.18,469.93 L780.29,470.95 L781.4,471.98 L782.5,473.03 L783.6,474.09 L784.69,475.16 L785.78,476.24 L786.87,477.34 L787.95,478.44 L789.03,479.56" fill="none" stroke="#f00000" stroke-width="3.6" stroke-linejoin="round" stroke-linecap="round"/>
<rect x="47.5" y="6.3" width="741.7" height="552.2" fill="none" stroke="#000" stroke-width="2" stroke-linejoin="miter"/>
<line x1="47.5" y1="71" x2="58.5" y2="71" stroke="#000" stroke-width="2" stroke-linecap="butt"/>
<line x1="47.5" y1="201" x2="58.5" y2="201" stroke="#000" stroke-width="2" stroke-linecap="butt"/>
<line x1="47.5" y1="331" x2="58.5" y2="331" stroke="#000" stroke-width="2" stroke-linecap="butt"/>
<line x1="47.5" y1="461" x2="58.5" y2="461" stroke="#000" stroke-width="2" stroke-linecap="butt"/>
<line x1="47.5" y1="136" x2="53.5" y2="136" stroke="#000" stroke-width="2" stroke-linecap="butt"/>
<line x1="47.5" y1="266" x2="53.5" y2="266" stroke="#000" stroke-width="2" stroke-linecap="butt"/>
<line x1="47.5" y1="396" x2="53.5" y2="396" stroke="#000" stroke-width="2" stroke-linecap="butt"/>
<line x1="47.5" y1="526" x2="53.5" y2="526" stroke="#000" stroke-width="2" stroke-linecap="butt"/>
<line x1="111.3" y1="558.5" x2="111.3" y2="570" stroke="#000" stroke-width="2" stroke-linecap="butt"/>
<text x="85.89" y="594.47" font-size="22.7" text-anchor="start">1200</text>
<line x1="218.95" y1="558.5" x2="218.95" y2="570" stroke="#000" stroke-width="2" stroke-linecap="butt"/>
<text x="193.54" y="594.47" font-size="22.7" text-anchor="start">1300</text>
<line x1="326.6" y1="558.5" x2="326.6" y2="570" stroke="#000" stroke-width="2" stroke-linecap="butt"/>
<text x="301.19" y="594.47" font-size="22.7" text-anchor="start">1400</text>
<line x1="434.25" y1="558.5" x2="434.25" y2="570" stroke="#000" stroke-width="2" stroke-linecap="butt"/>
<text x="408.84" y="594.47" font-size="22.7" text-anchor="start">1500</text>
<line x1="541.9" y1="558.5" x2="541.9" y2="570" stroke="#000" stroke-width="2" stroke-linecap="butt"/>
<text x="516.49" y="594.47" font-size="22.7" text-anchor="start">1600</text>
<line x1="649.55" y1="558.5" x2="649.55" y2="570" stroke="#000" stroke-width="2" stroke-linecap="butt"/>
<text x="624.14" y="594.47" font-size="22.7" text-anchor="start">1700</text>
<line x1="757.2" y1="558.5" x2="757.2" y2="570" stroke="#000" stroke-width="2" stroke-linecap="butt"/>
<text x="731.79" y="594.47" font-size="22.7" text-anchor="start">1800</text>
<line x1="57.47" y1="558.5" x2="57.47" y2="564.5" stroke="#000" stroke-width="2" stroke-linecap="butt"/>
<line x1="165.12" y1="558.5" x2="165.12" y2="564.5" stroke="#000" stroke-width="2" stroke-linecap="butt"/>
<line x1="272.77" y1="558.5" x2="272.77" y2="564.5" stroke="#000" stroke-width="2" stroke-linecap="butt"/>
<line x1="380.43" y1="558.5" x2="380.43" y2="564.5" stroke="#000" stroke-width="2" stroke-linecap="butt"/>
<line x1="488.07" y1="558.5" x2="488.07" y2="564.5" stroke="#000" stroke-width="2" stroke-linecap="butt"/>
<line x1="595.73" y1="558.5" x2="595.73" y2="564.5" stroke="#000" stroke-width="2" stroke-linecap="butt"/>
<line x1="703.38" y1="558.5" x2="703.38" y2="564.5" stroke="#000" stroke-width="2" stroke-linecap="butt"/>
<line x1="333.8" y1="416" x2="396.3" y2="416" stroke="#000" stroke-width="3.6" stroke-linecap="round"/>
<line x1="333.8" y1="451.3" x2="396.3" y2="451.3" stroke="#f00000" stroke-width="3.6" stroke-linecap="round"/>
<text transform="translate(404.67,424.97) scale(1.0505,1)" font-size="27.27" fill="#000">GQDs(Y)</text>
<text transform="translate(404.68,460.53) scale(1.0348,1)" font-size="27.49" fill="#000">GQDs(W)</text>
<text transform="translate(77.05,51.93) scale(1.0617,1)" font-size="27.49" fill="#000">(a)</text>
<text transform="translate(202.21,128.66) scale(1.0299,1)" font-size="27.81" fill="#000">D band (1345)</text>
<text transform="translate(417.27,57.46) scale(1.0275,1)" font-size="27.81" fill="#000">G band (1575)</text>
<text transform="translate(26.5,387.46) rotate(-90) scale(0.9717,1)" font-size="29.28">Intensity (CPS)</text>
<text transform="translate(302.2,627.6) scale(1.045,1)" font-size="27.2">Raman shift (cm<tspan font-size="16.5" dy="-11.5" dx="1">-1</tspan><tspan dy="11.5" dx="1">)</tspan></text>
<path d="M868.4,392.7 L870.8,393.71 L873.2,393.3 L875.4,394.1 L877.6,393.34 L879.8,393.3 L881.9,392.28 L884,392.1 L886,390.3 L888,389.72 L890,388.5 L892,387.34 L894,386.51 L896,386.7 L898.05,384.41 L900.1,381.9 L902.5,382.87 L904.9,383.7 L906.7,384.9 L907.9,379 L910.3,373.6 L912.7,373 L915.1,376 L916.9,381.9 L918.7,393.9 L920.5,405.9 L922.3,413.7 L925.9,418.5 L927.9,418.4 L929.9,417.2 L931.9,417.3 L933.9,417.1 L935.9,416.86 L937.9,416.7 L940.85,416.17 L943.8,417.3 L945.8,416.6 L947.8,415.48 L949.8,414.3 L951.8,415.01 L953.8,413.21 L955.8,412.5 L957.8,412.19 L959.8,412.71 L961.8,411.8 L963.85,411.63 L965.91,411.75 L967.96,410.77 L970.02,410.81 L972.07,410.98 L974.12,410.52 L976.18,409.93 L978.23,408.99 L980.28,409.55 L982.34,409.07 L984.39,409.15 L986.45,408.6 L988.5,408.2 L990.8,408.18 L993.1,406.93 L995.4,406.45 L997.7,406.09 L1000,405.1 L1002.23,404.07 L1004.47,404.01 L1006.7,403.8 L1008.97,402.86 L1011.23,403.56 L1013.5,401.8 L1015.73,401.28 L1017.97,401.23 L1020.2,400.4 L1022.47,400.31 L1024.73,399.38 L1027,399.1 L1030.3,397.7 L1033.7,394.4 L1037.7,397.1 L1041.1,395 L1043.1,389.6 L1044.8,388 L1047.2,390.3 L1049.2,399.1 L1051.6,406.5 L1053.2,407.2 L1055.3,393.7 L1057.3,380.2 L1059,379.2 L1060.6,382.2 L1062.3,400.4 L1063.7,420.6 L1065,435.5 L1067.4,440.2 L1071.4,442.9 L1073.43,441.81 L1075.47,442.96 L1077.5,442.2 L1079.58,441.76 L1081.67,442.16 L1083.75,440.83 L1085.83,441.09 L1087.92,441.81 L1090,440.9 L1092.07,441.49 L1094.13,439.78 L1096.2,439.57 L1098.27,440.08 L1100.33,440.3 L1102.4,439.7 L1104.42,439.53 L1106.44,439.36 L1108.46,438.39 L1110.48,439.01 L1112.5,439.04 L1114.53,437.94 L1116.55,437.13 L1118.57,437.25 L1120.59,437.83 L1122.61,436.2 L1124.63,436.85 L1126.65,436.1 L1128.67,436.32 L1130.69,436.01 L1132.71,435.9 L1134.73,436.46 L1136.75,435.61 L1138.78,435.86 L1140.8,434.79 L1142.82,434.35 L1144.84,434.57 L1146.86,432.55 L1148.88,433.83 L1150.9,433.6 L1152.92,433.42 L1154.94,432.38 L1156.96,433.04 L1158.98,432.21 L1161,430.89 L1163.03,431.86 L1165.05,431.17 L1167.07,431.15 L1169.09,431.08 L1171.11,431.58 L1173.13,430.68 L1175.15,430.33 L1177.17,430.29 L1179.19,428.81 L1181.21,430.22 L1183.23,428.67 L1185.25,429.24 L1187.28,428.11 L1189.3,427.92 L1191.32,427.97 L1193.34,428.96 L1195.36,428.03 L1197.38,427.04 L1199.4,427.1 L1201.42,426.76 L1203.45,426.09 L1205.47,426.52 L1207.5,426.03 L1209.52,426.56 L1211.54,425.23 L1213.57,425.6 L1215.59,425.13 L1217.62,425.01 L1219.64,425.61 L1221.66,425.1 L1223.69,425.17 L1225.71,425.31 L1227.74,425.1 L1229.76,423.53 L1231.78,424.39 L1233.81,422.94 L1235.83,423.68 L1237.86,424.58 L1239.88,423.23 L1241.9,422.95 L1243.93,423.06 L1245.95,422.79 L1247.98,422.6 L1250,422.4 L1252.02,421.58 L1254.03,422.19 L1256.05,421.69 L1258.07,420.68 L1260.08,420.57 L1262.1,420.36 L1264.12,420.17 L1266.13,419.42 L1268.15,419.18 L1270.17,418.26 L1272.18,417.41 L1274.2,417.6 L1276.27,417.09 L1278.33,417.69 L1280.4,417.44 L1282.47,416.75 L1284.53,416.12 L1286.6,416.2 L1288.65,416.37 L1290.7,417.11 L1292.75,416.94 L1294.8,416.2 L1297.7,417.27 L1300.6,419.1 L1302.6,410.5 L1305.9,407.2 L1308.4,412.9 L1310,422.8 L1312.1,431 L1313.3,444.2 L1315.5,455 L1316.8,457 L1318.3,452 L1320.1,88.5 L1320.6,88.5 L1322.6,440 L1323.2,466.4 L1324.9,473.7 L1327.15,474.48 L1329.4,475.3 L1331.45,474.4 L1333.5,474.48 L1335.55,475.1 L1337.6,474.91 L1339.65,475.33 L1341.7,474.7 L1343.71,475.21 L1345.72,474.78 L1347.73,474.86 L1349.74,473.64 L1351.76,473.13 L1353.77,473.84 L1355.78,474.85 L1357.79,473.39 L1359.8,473 L1361.9,472.17 L1364,472.75 L1366.1,473.2 L1368.2,471.65 L1370.3,472.47 L1372.4,471.5 L1374.5,472.34 L1376.6,471.88 L1378.7,471.42 L1380.8,472.16 L1382.9,470.64 L1385,470.29 L1387.1,471.5 L1389.2,469.8 L1391.3,471.3 L1393.4,469.87 L1395.5,469.7 L1399,466 L1401.5,469.2 L1403.56,468.46 L1405.61,468.87 L1407.67,468.77 L1409.72,468.64 L1411.78,468.26 L1413.83,468.79 L1415.89,466.76 L1417.94,467.56 L1420,467.7 L1424,465 L1426.4,463.51 L1428.8,462.3 L1431.15,464.3 L1433.5,464.3 L1435.73,463.67 L1437.97,465.05 L1440.2,465.7 L1442.9,462.37 L1445.6,460.3 L1449.6,457.9 L1451.65,459.38 L1453.7,461.6 L1456.4,473.8 L1459.1,485.9 L1461.1,492 L1462.6,489 L1464.9,288.5 L1465.4,288.5 L1467.6,470 L1468.5,504.1 L1471.2,509.5 L1473.2,510.05 L1475.2,510.13 L1477.2,510.1 L1479.31,510.94 L1481.42,509.87 L1483.54,510.4 L1485.65,510.95 L1487.76,510.85 L1489.88,510.22 L1491.99,511.07 L1494.1,510.5 L1497.4,508.1 L1500,510.3 L1502,509.79 L1504,511.29 L1506,510.38 L1508,510.24 L1510,510.45 L1512,510.77 L1514,511.26 L1516,510.22 L1518,510.1 L1520,510.62 L1522,509.82 L1524,509.37 L1526,510.76 L1528,510.09 L1530,510.92 L1532,509.74 L1534,508.71 L1536,510.46 L1538,510.39 L1540,511.18 L1542,510.59 L1544,510.47 L1546,510.62 L1548,510.1 L1550,510.34 L1552,509.56 L1554,510.59 L1556,509.86 L1558,510.05 L1560,510.3 L1562.06,510.68 L1564.12,510.8 L1566.18,509.73 L1568.25,511.39 L1570.31,509.96 L1572.37,510.74 L1574.43,510.8 L1576.49,510.39 L1578.55,510.36 L1580.62,511.25 L1582.68,510.75 L1584.74,510.5 L1586.8,509.25 L1588.86,509.84 L1590.92,510.88 L1592.98,510.35 L1595.05,509.71 L1597.11,509.88 L1599.17,510.06 L1601.23,510.6 L1603.29,510.43 L1605.35,510.76 L1607.42,509.76 L1609.48,510.75 L1611.54,509.93 L1613.6,510.2 L1616.5,506 L1618.5,503.6 L1620.9,509.7 L1623.33,510.34 L1625.77,512.25 L1628.2,512.1 L1630.85,514.09 L1633.5,516" fill="none" stroke="#000" stroke-width="4.4" stroke-linejoin="round" stroke-linecap="round"/>
<rect x="867.9" y="9.7" width="766.6" height="551.5" fill="none" stroke="#000" stroke-width="2.2" stroke-linejoin="miter"/>
<text transform="translate(1625.01,597.88) scale(1.1600,1)" font-size="32" text-anchor="start">0</text>
<line x1="1516.5" y1="561.2" x2="1516.5" y2="551.2" stroke="#000" stroke-width="2" stroke-linecap="butt"/>
<text transform="translate(1486.32,597.88) scale(1.1600,1)" font-size="32" text-anchor="start">200</text>
<line x1="1398.6" y1="561.2" x2="1398.6" y2="551.2" stroke="#000" stroke-width="2" stroke-linecap="butt"/>
<text transform="translate(1368.98,597.88) scale(1.1600,1)" font-size="32" text-anchor="start">400</text>
<line x1="1280.7" y1="561.2" x2="1280.7" y2="551.2" stroke="#000" stroke-width="2" stroke-linecap="butt"/>
<text transform="translate(1250.52,597.88) scale(1.1600,1)" font-size="32" text-anchor="start">600</text>
<line x1="1162.8" y1="561.2" x2="1162.8" y2="551.2" stroke="#000" stroke-width="2" stroke-linecap="butt"/>
<text transform="translate(1132.71,597.88) scale(1.1600,1)" font-size="32" text-anchor="start">800</text>
<line x1="1044.9" y1="561.2" x2="1044.9" y2="551.2" stroke="#000" stroke-width="2" stroke-linecap="butt"/>
<text transform="translate(1003.86,597.88) scale(1.1600,1)" font-size="32" text-anchor="start">1000</text>
<line x1="927" y1="561.2" x2="927" y2="551.2" stroke="#000" stroke-width="2" stroke-linecap="butt"/>
<text transform="translate(885.96,597.88) scale(1.1600,1)" font-size="32" text-anchor="start">1200</text>
<line x1="1575.45" y1="561.2" x2="1575.45" y2="555.7" stroke="#000" stroke-width="2" stroke-linecap="butt"/>
<line x1="1457.55" y1="561.2" x2="1457.55" y2="555.7" stroke="#000" stroke-width="2" stroke-linecap="butt"/>
<line x1="1339.65" y1="561.2" x2="1339.65" y2="555.7" stroke="#000" stroke-width="2" stroke-linecap="butt"/>
<line x1="1221.75" y1="561.2" x2="1221.75" y2="555.7" stroke="#000" stroke-width="2" stroke-linecap="butt"/>
<line x1="1103.85" y1="561.2" x2="1103.85" y2="555.7" stroke="#000" stroke-width="2" stroke-linecap="butt"/>
<line x1="985.95" y1="561.2" x2="985.95" y2="555.7" stroke="#000" stroke-width="2" stroke-linecap="butt"/>
<line x1="868.05" y1="561.2" x2="868.05" y2="555.7" stroke="#000" stroke-width="2" stroke-linecap="butt"/>
<text transform="translate(880.05,49.64) scale(1.2245,1)" font-size="27.91" fill="#000">(b)</text>
<text transform="translate(832.67,408.83) rotate(-90) scale(0.9194,1)" font-size="35.4" fill="#000">Intensity/(a.u.)</text>
<text transform="translate(1286.2,75.7) scale(1.1992,1)" font-size="29.58" fill="#000">O 1<tspan font-style="italic">s</tspan></text>
<text transform="translate(1429.71,276.7) scale(1.1929,1)" font-size="30" fill="#000">C 1<tspan font-style="italic">s</tspan></text>
<text transform="translate(1100.17,646.22) scale(1.1327,1)" font-size="32.3" fill="#000">Binding energy</text>
<text transform="translate(1350.11,644.61) scale(1.0869,1)" font-size="28.98" fill="#000">(eV)</text>
<path d="M64.87,1163.58 L66.42,1163.68 L67.96,1163.79 L69.49,1163.89 L71.02,1164.01 L72.55,1164.12 L74.08,1164.25 L75.6,1164.37 L77.11,1164.5 L78.63,1164.64 L80.14,1164.78 L81.64,1164.92 L83.15,1165.07 L84.65,1165.22 L86.14,1165.37 L87.64,1165.53 L89.13,1165.69 L90.62,1165.86 L92.11,1166.02 L93.6,1166.19 L95.08,1166.37 L96.56,1166.54 L98.04,1166.72 L99.52,1166.9 L101,1167.08 L102.48,1167.27 L103.95,1167.45 L105.43,1167.64 L106.9,1167.83 L108.37,1168.03 L109.84,1168.22 L111.31,1168.42 L112.79,1168.61 L114.26,1168.81 L115.73,1169.01 L117.2,1169.21 L118.67,1169.41 L120.14,1169.61 L121.61,1169.81 L123.09,1170.01 L124.56,1170.21 L126.03,1170.41 L127.51,1170.62 L128.99,1170.82 L130.46,1171.02 L131.94,1171.22 L133.42,1171.42 L134.91,1171.62 L136.39,1171.82 L137.88,1172.02 L139.36,1172.21 L140.86,1172.41 L142.35,1172.6 L143.84,1172.8 L145.34,1172.99 L146.84,1173.18 L148.35,1173.37 L149.85,1173.55 L151.36,1173.74 L152.88,1173.92 L154.39,1174.1 L155.92,1174.27 L157.44,1174.45 L158.97,1174.62 L160.5,1174.79 L162.03,1174.95 L163.57,1175.1 L165.11,1175.25 L166.64,1175.4 L168.18,1175.53 L169.72,1175.65 L171.26,1175.76 L172.8,1175.86 L174.33,1175.95 L175.87,1176.03 L177.4,1176.09 L178.93,1176.13 L180.45,1176.16 L181.97,1176.17 L183.49,1176.16 L185,1176.13 L186.51,1176.08 L188,1176.01 L189.5,1175.92 L190.98,1175.81 L192.46,1175.67 L193.93,1175.5 L195.39,1175.31 L196.84,1175.09 L198.28,1174.85 L199.71,1174.57 L201.13,1174.27 L202.54,1173.93 L203.94,1173.56 L205.33,1173.16 L206.7,1172.73 L208.06,1172.26 L209.4,1171.76 L210.74,1171.23 L212.06,1170.66 L213.36,1170.06 L214.66,1169.44 L215.94,1168.78 L217.21,1168.09 L218.46,1167.38 L219.7,1166.63 L220.93,1165.86 L222.15,1165.06 L223.35,1164.24 L224.54,1163.39 L225.71,1162.51 L226.88,1161.61 L228.03,1160.69 L229.16,1159.74 L230.28,1158.77 L231.39,1157.77 L232.49,1156.75 L233.57,1155.72 L234.64,1154.66 L235.69,1153.58 L236.73,1152.48 L237.76,1151.36 L238.78,1150.23 L239.78,1149.07 L240.77,1147.9 L241.74,1146.71 L242.7,1145.51 L243.64,1144.29 L244.58,1143.06 L245.5,1141.81 L246.4,1140.54 L247.29,1139.27 L248.17,1137.98 L249.03,1136.68 L249.88,1135.36 L250.72,1134.04 L251.54,1132.71 L252.35,1131.36 L253.15,1130.01 L253.93,1128.65 L254.69,1127.28 L255.44,1125.9 L256.18,1124.52 L256.91,1123.13 L257.62,1121.73 L258.31,1120.33 L259,1118.92 L259.66,1117.51 L260.32,1116.1 L260.96,1114.68 L261.58,1113.26 L262.19,1111.84 L262.79,1110.42 L263.37,1109 L263.94,1107.58 L264.5,1106.16 L265.03,1104.73 L265.56,1103.32 L266.07,1101.9 L266.57,1100.49 L267.05,1099.08 L267.52,1097.67 L267.97,1096.27 L268.42,1094.87 L268.86,1093.47 L269.29,1092.08 L269.71,1090.69 L270.13,1089.3 L270.54,1087.91 L270.96,1086.53 L271.38,1085.15 L271.8,1083.77 L272.22,1082.4 L272.65,1081.02 L273.08,1079.65 L273.52,1078.27 L273.98,1076.9 L274.44,1075.53 L274.92,1074.16 L275.41,1072.8 L275.92,1071.43 L276.45,1070.06 L277,1068.69 L277.57,1067.33 L278.16,1065.96 L278.78,1064.59 L279.42,1063.22 L280.09,1061.86 L280.79,1060.49 L281.52,1059.12 L282.29,1057.74 L283.08,1056.37 L283.92,1055 L284.79,1053.62 L285.7,1052.26 L286.65,1050.95 L287.64,1049.76 L288.68,1048.72 L289.77,1047.89 L290.9,1047.29 L292.06,1046.94 L293.23,1046.87 L294.42,1047.07 L295.61,1047.51 L296.78,1048.18 L297.94,1049.02 L299.06,1050 L300.15,1051.1 L301.18,1052.28 L302.16,1053.51 L303.07,1054.76 L303.92,1056.04 L304.71,1057.33 L305.45,1058.65 L306.14,1059.99 L306.78,1061.34 L307.38,1062.72 L307.94,1064.1 L308.46,1065.51 L308.95,1066.92 L309.41,1068.35 L309.85,1069.79 L310.26,1071.24 L310.65,1072.69 L311.02,1074.16 L311.39,1075.62 L311.75,1077.1 L312.1,1078.58 L312.45,1080.05 L312.8,1081.53 L313.15,1083.01 L313.52,1084.49 L313.9,1085.97 L314.29,1087.44 L314.71,1088.9 L315.14,1090.36 L315.59,1091.82 L316.07,1093.26 L316.56,1094.7 L317.08,1096.14 L317.61,1097.56 L318.17,1098.98 L318.74,1100.4 L319.33,1101.8 L319.94,1103.2 L320.57,1104.59 L321.22,1105.97 L321.88,1107.34 L322.56,1108.7 L323.26,1110.06 L323.98,1111.4 L324.72,1112.74 L325.47,1114.07 L326.24,1115.39 L327.02,1116.7 L327.82,1118 L328.64,1119.28 L329.47,1120.56 L330.32,1121.83 L331.18,1123.09 L332.06,1124.33 L332.95,1125.57 L333.86,1126.79 L334.78,1128.01 L335.72,1129.21 L336.67,1130.4 L337.64,1131.57 L338.61,1132.74 L339.61,1133.89 L340.61,1135.03 L341.63,1136.16 L342.66,1137.27 L343.7,1138.37 L344.75,1139.46 L345.82,1140.53 L346.9,1141.59 L347.99,1142.64 L349.09,1143.67 L350.2,1144.69 L351.32,1145.69 L352.46,1146.68 L353.6,1147.65 L354.75,1148.61 L355.92,1149.55 L357.09,1150.47 L358.27,1151.39 L359.47,1152.28 L360.67,1153.16 L361.88,1154.02 L363.1,1154.87 L364.32,1155.7 L365.56,1156.51 L366.8,1157.3 L368.05,1158.08 L369.31,1158.84 L370.58,1159.58 L371.85,1160.31 L373.13,1161.01 L374.42,1161.7 L375.71,1162.37 L377.01,1163.03 L378.31,1163.67 L379.63,1164.29 L380.95,1164.89 L382.27,1165.48 L383.6,1166.05 L384.94,1166.61 L386.28,1167.15 L387.63,1167.67 L388.99,1168.18 L390.35,1168.68 L391.71,1169.16 L393.08,1169.63 L394.46,1170.08 L395.84,1170.52 L397.23,1170.95 L398.62,1171.36 L400.02,1171.76 L401.42,1172.15 L402.83,1172.53 L404.24,1172.89 L405.66,1173.24 L407.08,1173.58 L408.51,1173.91 L409.94,1174.22 L411.37,1174.53 L412.81,1174.82 L414.25,1175.11 L415.7,1175.38 L417.15,1175.65 L418.6,1175.9 L420.06,1176.15 L421.52,1176.38 L422.99,1176.61 L424.46,1176.83 L425.93,1177.04 L427.4,1177.24 L428.88,1177.44 L430.36,1177.62 L431.85,1177.8 L433.34,1177.97 L434.83,1178.14 L436.32,1178.3 L437.82,1178.45 L439.31,1178.59 L440.82,1178.73 L442.32,1178.87 L443.82,1178.99 L445.33,1179.12 L446.84,1179.23 L448.35,1179.35 L449.87,1179.46 L451.38,1179.56 L452.9,1179.66 L454.42,1179.76 L455.94,1179.85 L457.46,1179.94 L458.98,1180.03 L460.51,1180.12 L462.03,1180.2 L463.56,1180.28 L465.09,1180.36 L466.62,1180.43 L468.14,1180.51 L469.67,1180.58 L471.2,1180.66 L472.74,1180.73 L474.27,1180.8 L475.8,1180.87 L477.33,1180.94 L478.86,1181.02 L480.4,1181.09 L481.93,1181.16 L483.46,1181.24 L484.99,1181.31 L486.52,1181.39 L488.05,1181.47 L489.58,1181.55 L491.11,1181.63 L492.64,1181.72 L494.17,1181.81 L495.7,1181.9 L497.23,1182 L498.75,1182.09 L500.28,1182.19 L501.81,1182.29 L503.33,1182.4 L504.85,1182.5 L506.38,1182.61 L507.9,1182.72 L509.42,1182.84 L510.94,1182.95 L512.46,1183.07 L513.98,1183.19 L515.5,1183.31 L517.02,1183.43 L518.54,1183.56 L520.05,1183.69 L521.57,1183.82 L523.09,1183.95 L524.6,1184.08 L526.12,1184.22 L527.63,1184.35 L529.14,1184.49 L530.66,1184.63 L532.17,1184.77 L533.68,1184.91 L535.19,1185.05 L536.7,1185.2 L538.21,1185.35 L539.72,1185.49 L541.23,1185.64 L542.74,1185.79 L544.25,1185.94 L545.75,1186.1 L547.26,1186.25 L548.77,1186.4 L550.27,1186.56 L551.78,1186.71 L553.28,1186.87 L554.79,1187.03 L556.29,1187.18 L557.79,1187.34 L559.3,1187.5 L560.8,1187.66 L562.3,1187.82 L563.8,1187.98 L565.3,1188.14 L566.8,1188.31 L568.31,1188.47 L569.8,1188.63 L571.3,1188.79 L572.8,1188.96 L574.3,1189.12 L575.8,1189.28 L577.3,1189.44 L578.79,1189.61 L580.29,1189.77 L581.79,1189.93 L583.28,1190.09 L584.78,1190.26 L586.28,1190.42 L587.77,1190.58 L589.27,1190.74 L590.76,1190.9 L592.25,1191.06 L593.75,1191.22 L595.24,1191.38 L596.74,1191.54 L598.23,1191.7 L599.72,1191.86 L601.21,1192.01 L602.71,1192.17 L604.2,1192.32 L605.69,1192.48 L607.18,1192.63 L608.67,1192.78 L610.16,1192.93 L611.65,1193.08 L613.14,1193.23 L614.63,1193.38 L616.12,1193.53 L617.61,1193.67 L619.1,1193.82 L620.59,1193.96 L622.08,1194.1 L623.57,1194.24 L625.06,1194.38 L626.54,1194.51 L628.03,1194.65 L629.52,1194.78 L631.01,1194.91 L632.49,1195.04 L633.98,1195.17 L635.47,1195.29 L636.96,1195.42 L638.44,1195.54 L639.93,1195.66 L641.42,1195.78 L642.9,1195.89 L644.39,1196.01 L645.88,1196.12 L647.36,1196.23 L648.85,1196.33 L650.33,1196.44 L651.82,1196.54 L653.31,1196.64 L654.79,1196.74 L656.28,1196.83 L657.76,1196.92 L659.25,1197.01 L660.74,1197.1 L662.22,1197.18 L663.71,1197.26 L665.19,1197.34 L666.68,1197.41 L668.16,1197.49 L669.65,1197.55 L671.13,1197.62 L672.62,1197.68 L674.11,1197.74 L675.59,1197.8 L677.08,1197.85 L678.56,1197.9 L680.05,1197.95 L681.53,1197.99 L683.02,1198.03 L684.51,1198.07 L685.99,1198.1 L687.48,1198.13 L688.96,1198.16 L690.45,1198.18 L691.94,1198.2 L693.42,1198.21 L694.91,1198.22 L696.39,1198.23 L697.88,1198.23 L699.37,1198.23 L700.85,1198.22 L702.34,1198.21 L703.83,1198.2 L705.32,1198.18 L706.8,1198.16 L708.29,1198.14 L709.78,1198.1 L711.27,1198.07 L712.75,1198.03 L714.24,1197.99 L715.73,1197.94 L717.22,1197.89 L718.71,1197.83 L720.2,1197.77 L721.69,1197.7 L723.18,1197.63 L724.67,1197.55 L726.16,1197.47 L727.65,1197.38 L729.14,1197.29 L730.63,1197.2 L732.12,1197.09 L733.61,1196.99 L735.1,1196.88 L736.59,1196.76 L738.08,1196.64 L739.58,1196.51 L741.07,1196.38 L742.56,1196.24 L744.06,1196.1 L745.55,1195.95 L747.04,1195.79 L748.54,1195.63 L750.03,1195.47 L751.53,1195.3 L753.02,1195.12 L754.52,1194.94 L756.01,1194.75 L757.51,1194.55 L759,1194.35 L760.5,1194.14 L762,1193.93 L763.5,1193.71 L764.99,1193.49 L766.49,1193.26 L767.99,1193.02 L769.49,1192.78 L770.99,1192.53 L772.49,1192.27 L773.99,1192.01 L775.49,1191.74 L776.99,1191.46 L778.5,1191.18 L780,1190.89 L781.5,1190.6 L783,1190.29 L784.51,1189.98 L786.01,1189.67 L787.52,1189.35 L789.02,1189.02 L790.53,1188.68 L792.03,1188.34 L793.54,1187.99 L795.05,1187.63 L796.56,1187.26 L798.06,1186.89 L799.57,1186.51 L801.08,1186.13 L802.59,1185.73 L804.1,1185.33 L805.61,1184.92 L807.13,1184.5 L808.64,1184.08" fill="none" stroke="#00e000" stroke-width="4" stroke-linejoin="round" stroke-linecap="round" stroke-dasharray="15.5 23.5" stroke-dashoffset="5"/>
<path d="M204.86,1173.72 L206.4,1173.89 L207.94,1174.05 L209.47,1174.21 L211,1174.37 L212.52,1174.53 L214.04,1174.69 L215.55,1174.84 L217.06,1175 L218.56,1175.15 L220.06,1175.31 L221.56,1175.46 L223.05,1175.61 L224.54,1175.75 L226.02,1175.9 L227.51,1176.04 L228.98,1176.19 L230.46,1176.33 L231.93,1176.46 L233.41,1176.6 L234.87,1176.73 L236.34,1176.86 L237.81,1176.99 L239.27,1177.12 L240.73,1177.24 L242.19,1177.36 L243.65,1177.48 L245.11,1177.6 L246.57,1177.71 L248.03,1177.82 L249.48,1177.92 L250.94,1178.03 L252.4,1178.13 L253.85,1178.22 L255.31,1178.32 L256.77,1178.41 L258.23,1178.49 L259.69,1178.57 L261.15,1178.65 L262.62,1178.73 L264.08,1178.8 L265.55,1178.86 L267.02,1178.92 L268.49,1178.98 L269.96,1179.04 L271.44,1179.08 L272.92,1179.13 L274.4,1179.17 L275.88,1179.2 L277.37,1179.24 L278.86,1179.26 L280.36,1179.28 L281.86,1179.3 L283.36,1179.31 L284.87,1179.32 L286.38,1179.32 L287.9,1179.31 L289.42,1179.3 L290.95,1179.29 L292.48,1179.27 L294.02,1179.24 L295.57,1179.21 L297.12,1179.17 L298.67,1179.13 L300.23,1179.08 L301.8,1179.02 L303.38,1178.96 L304.96,1178.89 L306.54,1178.81 L308.13,1178.73 L309.73,1178.63 L311.32,1178.53 L312.92,1178.42 L314.52,1178.3 L316.12,1178.17 L317.71,1178.03 L319.31,1177.87 L320.9,1177.71 L322.49,1177.53 L324.08,1177.34 L325.66,1177.13 L327.24,1176.91 L328.81,1176.67 L330.37,1176.42 L331.93,1176.15 L333.47,1175.87 L335.01,1175.57 L336.53,1175.25 L338.05,1174.91 L339.55,1174.56 L341.04,1174.18 L342.51,1173.79 L343.97,1173.37 L345.42,1172.93 L346.85,1172.48 L348.26,1172 L349.66,1171.49 L351.03,1170.97 L352.39,1170.42 L353.72,1169.84 L355.04,1169.24 L356.33,1168.62 L357.6,1167.97 L358.85,1167.29 L360.07,1166.59 L361.27,1165.86 L362.45,1165.1 L363.6,1164.32 L364.73,1163.51 L365.83,1162.68 L366.91,1161.82 L367.98,1160.94 L369.01,1160.04 L370.03,1159.11 L371.03,1158.16 L372,1157.18 L372.96,1156.19 L373.89,1155.17 L374.8,1154.13 L375.69,1153.07 L376.57,1151.99 L377.42,1150.89 L378.26,1149.77 L379.07,1148.63 L379.87,1147.47 L380.65,1146.3 L381.41,1145.1 L382.16,1143.89 L382.88,1142.66 L383.59,1141.41 L384.29,1140.15 L384.96,1138.87 L385.62,1137.58 L386.27,1136.27 L386.89,1134.95 L387.51,1133.61 L388.11,1132.26 L388.69,1130.89 L389.26,1129.52 L389.81,1128.13 L390.36,1126.72 L390.88,1125.31 L391.4,1123.88 L391.9,1122.44 L392.39,1121 L392.87,1119.54 L393.33,1118.07 L393.78,1116.59 L394.22,1115.11 L394.65,1113.61 L395.07,1112.11 L395.48,1110.6 L395.88,1109.08 L396.27,1107.56 L396.64,1106.03 L397.01,1104.49 L397.37,1102.95 L397.72,1101.4 L398.06,1099.85 L398.4,1098.29 L398.72,1096.73 L399.04,1095.17 L399.35,1093.6 L399.65,1092.03 L399.95,1090.46 L400.24,1088.88 L400.52,1087.31 L400.8,1085.73 L401.07,1084.15 L401.34,1082.57 L401.6,1080.99 L401.86,1079.42 L402.11,1077.84 L402.35,1076.26 L402.6,1074.69 L402.84,1073.12 L403.07,1071.55 L403.31,1069.98 L403.54,1068.42 L403.77,1066.86 L403.99,1065.31 L404.22,1063.76 L404.44,1062.21 L404.66,1060.67 L404.88,1059.14 L405.1,1057.61 L405.31,1056.09 L405.53,1054.57 L405.74,1053.05 L405.95,1051.54 L406.16,1050.03 L406.37,1048.53 L406.58,1047.03 L406.79,1045.54 L406.99,1044.05 L407.2,1042.56 L407.4,1041.08 L407.6,1039.6 L407.8,1038.12 L408,1036.65 L408.2,1035.18 L408.4,1033.71 L408.59,1032.25 L408.79,1030.79 L408.98,1029.33 L409.17,1027.87 L409.36,1026.42 L409.55,1024.96 L409.74,1023.51 L409.93,1022.06 L410.12,1020.62 L410.3,1019.17 L410.49,1017.73 L410.67,1016.29 L410.85,1014.84 L411.04,1013.4 L411.22,1011.97 L411.4,1010.53 L411.57,1009.09 L411.75,1007.65 L411.93,1006.22 L412.1,1004.78 L412.28,1003.34 L412.45,1001.91 L412.63,1000.47 L412.8,999.04 L412.97,997.6 L413.14,996.16 L413.31,994.73 L413.48,993.29 L413.65,991.85 L413.82,990.41 L413.98,988.97 L414.15,987.52 L414.31,986.08 L414.48,984.64 L414.64,983.19 L414.81,981.74 L414.97,980.29 L415.13,978.84 L415.29,977.38 L415.45,975.93 L415.61,974.47 L415.77,973.01 L415.93,971.54 L416.09,970.08 L416.25,968.61 L416.4,967.13 L416.56,965.66 L416.72,964.18 L416.87,962.69 L417.03,961.21 L417.18,959.72 L417.34,958.22 L417.49,956.73 L417.65,955.23 L417.8,953.72 L417.95,952.21 L418.11,950.69 L418.26,949.18 L418.41,947.65 L418.56,946.12 L418.71,944.59 L418.86,943.05 L419.01,941.51 L419.16,939.96 L419.31,938.4 L419.46,936.84 L419.61,935.28 L419.76,933.7 L419.91,932.13 L420.06,930.54 L420.21,928.95 L420.36,927.36 L420.52,925.76 L420.68,924.17 L420.84,922.57 L421.01,920.97 L421.19,919.38 L421.37,917.78 L421.57,916.2 L421.77,914.61 L421.99,913.04 L422.21,911.47 L422.45,909.91 L422.71,908.36 L422.98,906.82 L423.26,905.29 L423.57,903.77 L423.89,902.27 L424.23,900.79 L424.59,899.32 L424.97,897.87 L425.37,896.44 L425.8,895.03 L426.25,893.64 L426.73,892.27 L427.24,890.93 L427.77,889.61 L428.33,888.31 L428.92,887.04 L429.54,885.8 L430.19,884.59 L430.88,883.41 L431.59,882.29 L432.33,881.3 L433.07,880.52 L433.82,880.01 L434.56,879.85 L435.28,880.08 L435.99,880.66 L436.67,881.49 L437.34,882.52 L437.99,883.67 L438.63,884.87 L439.24,886.09 L439.83,887.35 L440.41,888.63 L440.97,889.94 L441.52,891.27 L442.04,892.63 L442.56,894 L443.05,895.4 L443.54,896.82 L444.01,898.26 L444.46,899.71 L444.9,901.18 L445.33,902.66 L445.75,904.16 L446.16,905.67 L446.55,907.19 L446.94,908.72 L447.31,910.26 L447.68,911.8 L448.03,913.35 L448.38,914.9 L448.72,916.46 L449.05,918.02 L449.38,919.58 L449.69,921.13 L450.01,922.69 L450.31,924.24 L450.62,925.79 L450.91,927.33 L451.21,928.86 L451.5,930.4 L451.78,931.92 L452.06,933.44 L452.34,934.96 L452.61,936.47 L452.88,937.98 L453.15,939.48 L453.41,940.98 L453.67,942.48 L453.92,943.97 L454.18,945.46 L454.42,946.94 L454.67,948.43 L454.91,949.91 L455.15,951.38 L455.39,952.86 L455.63,954.33 L455.86,955.8 L456.09,957.26 L456.32,958.73 L456.54,960.19 L456.77,961.66 L456.99,963.12 L457.21,964.58 L457.43,966.03 L457.65,967.49 L457.86,968.95 L458.08,970.41 L458.29,971.86 L458.51,973.32 L458.72,974.78 L458.93,976.23 L459.14,977.69 L459.35,979.15 L459.56,980.61 L459.76,982.07 L459.97,983.53 L460.18,984.99 L460.39,986.45 L460.6,987.92 L460.8,989.38 L461.01,990.85 L461.22,992.32 L461.43,993.8 L461.64,995.27 L461.85,996.75 L462.06,998.23 L462.27,999.71 L462.49,1001.19 L462.7,1002.68 L462.92,1004.17 L463.14,1005.65 L463.36,1007.14 L463.58,1008.63 L463.81,1010.12 L464.03,1011.62 L464.26,1013.11 L464.49,1014.6 L464.73,1016.1 L464.96,1017.59 L465.2,1019.09 L465.45,1020.58 L465.69,1022.08 L465.94,1023.57 L466.2,1025.07 L466.45,1026.56 L466.72,1028.05 L466.98,1029.55 L467.25,1031.04 L467.52,1032.53 L467.8,1034.02 L468.08,1035.51 L468.37,1037 L468.66,1038.49 L468.96,1039.98 L469.26,1041.46 L469.57,1042.95 L469.89,1044.43 L470.21,1045.91 L470.53,1047.38 L470.86,1048.86 L471.2,1050.33 L471.54,1051.8 L471.89,1053.27 L472.25,1054.74 L472.61,1056.2 L472.98,1057.66 L473.36,1059.12 L473.74,1060.57 L474.13,1062.02 L474.53,1063.47 L474.94,1064.92 L475.35,1066.36 L475.78,1067.79 L476.21,1069.23 L476.64,1070.66 L477.09,1072.08 L477.54,1073.5 L478.01,1074.92 L478.48,1076.33 L478.96,1077.74 L479.45,1079.14 L479.95,1080.54 L480.46,1081.94 L480.97,1083.33 L481.49,1084.72 L482.02,1086.1 L482.56,1087.49 L483.11,1088.86 L483.66,1090.24 L484.22,1091.61 L484.78,1092.98 L485.35,1094.35 L485.93,1095.72 L486.51,1097.08 L487.1,1098.44 L487.7,1099.8 L488.3,1101.16 L488.91,1102.52 L489.52,1103.88 L490.13,1105.24 L490.75,1106.59 L491.38,1107.95 L492.01,1109.3 L492.64,1110.65 L493.28,1112.01 L493.92,1113.36 L494.56,1114.72 L495.21,1116.07 L495.86,1117.43 L496.51,1118.79 L497.17,1120.15 L497.83,1121.51 L498.49,1122.87 L499.15,1124.23 L499.81,1125.59 L500.48,1126.96 L501.15,1128.33 L501.81,1129.7 L502.48,1131.07 L503.15,1132.45 L503.82,1133.83 L504.5,1135.21 L505.17,1136.6 L505.84,1137.99 L506.51,1139.38 L507.18,1140.78 L507.85,1142.18 L508.52,1143.58 L509.19,1144.99 L509.85,1146.41 L510.52,1147.82 L511.18,1149.25 L511.85,1150.67 L512.51,1152.1 L513.18,1153.52 L513.85,1154.94 L514.53,1156.35 L515.22,1157.75 L515.93,1159.12 L516.64,1160.48 L517.38,1161.82 L518.13,1163.13 L518.9,1164.42 L519.69,1165.67 L520.51,1166.88 L521.36,1168.05 L522.23,1169.19 L523.14,1170.27 L524.08,1171.31 L525.05,1172.3 L526.07,1173.23 L527.12,1174.1 L528.21,1174.91 L529.35,1175.65 L530.53,1176.33 L531.75,1176.95 L533.02,1177.51 L534.32,1178.01 L535.65,1178.46 L537.02,1178.85 L538.42,1179.2 L539.85,1179.51 L541.31,1179.78 L542.79,1180 L544.3,1180.19 L545.83,1180.35 L547.37,1180.49 L548.93,1180.59 L550.51,1180.67 L552.1,1180.74 L553.7,1180.78 L555.3,1180.82 L556.92,1180.84 L558.54,1180.85 L560.15,1180.86 L561.77,1180.87 L563.39,1180.88 L565,1180.9 L566.61,1180.92 L568.21,1180.95 L569.8,1180.99 L571.39,1181.03 L572.97,1181.08 L574.55,1181.14 L576.12,1181.21 L577.69,1181.28 L579.25,1181.35 L580.8,1181.44 L582.35,1181.53 L583.9,1181.62 L585.44,1181.72 L586.97,1181.83 L588.51,1181.94 L590.03,1182.05 L591.56,1182.17 L593.08,1182.3 L594.59,1182.43 L596.1,1182.56 L597.61,1182.7 L599.12,1182.84 L600.62,1182.98 L602.12,1183.13 L603.61,1183.28 L605.1,1183.44 L606.59,1183.59 L608.08,1183.75 L609.57,1183.91 L611.05,1184.08 L612.53,1184.25 L614.01,1184.41 L615.48,1184.58 L616.96,1184.76 L618.43,1184.93 L619.9,1185.1 L621.37,1185.28 L622.84,1185.45 L624.31,1185.63 L625.78,1185.81 L627.25,1185.99 L628.71,1186.16 L630.18,1186.34 L631.64,1186.52 L633.11,1186.69 L634.58,1186.87 L636.04,1187.05 L637.51,1187.22 L638.97,1187.39 L640.44,1187.56 L641.91,1187.73 L643.38,1187.9 L644.85,1188.07 L646.32,1188.23 L647.79,1188.39 L649.26,1188.55 L650.74,1188.71 L652.21,1188.86 L653.69,1189.01 L655.17,1189.16 L656.65,1189.3 L658.14,1189.45 L659.62,1189.59 L661.11,1189.72 L662.59,1189.85 L664.08,1189.98 L665.57,1190.11 L667.06,1190.23 L668.56,1190.35 L670.05,1190.47 L671.55,1190.59 L673.04,1190.7 L674.54,1190.8 L676.04,1190.91 L677.54,1191.01 L679.04,1191.11 L680.54,1191.2 L682.04,1191.29 L683.54,1191.38 L685.05,1191.47 L686.55,1191.55 L688.06,1191.62 L689.56,1191.7 L691.07,1191.77 L692.58,1191.83 L694.09,1191.9 L695.6,1191.96 L697.11,1192.01 L698.62,1192.06 L700.13,1192.11 L701.64,1192.16 L703.15,1192.2 L704.66,1192.24 L706.17,1192.27 L707.69,1192.3 L709.2,1192.32 L710.71,1192.35 L712.23,1192.36 L713.74,1192.38 L715.25,1192.39 L716.77,1192.39 L718.28,1192.4 L719.8,1192.39 L721.31,1192.39 L722.83,1192.38 L724.34,1192.36 L725.85,1192.34 L727.37,1192.32 L728.88,1192.29 L730.39,1192.26 L731.91,1192.23 L733.42,1192.19 L734.93,1192.14 L736.45,1192.09 L737.96,1192.04 L739.47,1191.98 L740.98,1191.92 L742.49,1191.86 L744,1191.79 L745.51,1191.71 L747.02,1191.63 L748.53,1191.55 L750.04,1191.46 L751.54,1191.36 L753.05,1191.27 L754.55,1191.16 L756.06,1191.06 L757.56,1190.94 L759.07,1190.83 L760.57,1190.71 L762.07,1190.58 L763.57,1190.45 L765.07,1190.31 L766.57,1190.17 L768.06,1190.02 L769.56,1189.87 L771.05,1189.72 L772.55,1189.56 L774.04,1189.39 L775.53,1189.22 L777.02,1189.04 L778.51,1188.86 L779.99,1188.68 L781.48,1188.49 L782.96,1188.29 L784.45,1188.09 L785.93,1187.88 L787.41,1187.67 L788.88,1187.45 L790.36,1187.23 L791.84,1187 L793.31,1186.77 L794.78,1186.53 L796.25,1186.28 L797.72,1186.03 L799.18,1185.78 L800.65,1185.52 L802.11,1185.25 L803.57,1184.98 L805.03,1184.7 L806.48,1184.42 L807.94,1184.13" fill="none" stroke="#00f0f0" stroke-width="4" stroke-linejoin="round" stroke-linecap="round" stroke-dasharray="15.5 23.5" stroke-dashoffset="12"/>
<path d="M150.01,1171.05 L151.5,1171.11 L152.99,1171.16 L154.49,1171.21 L155.98,1171.24 L157.47,1171.26 L158.97,1171.27 L160.47,1171.27 L161.96,1171.26 L163.46,1171.24 L164.96,1171.2 L166.46,1171.16 L167.96,1171.11 L169.46,1171.05 L170.96,1170.98 L172.46,1170.9 L173.97,1170.81 L175.47,1170.71 L176.97,1170.6 L178.47,1170.48 L179.97,1170.35 L181.47,1170.22 L182.98,1170.07 L184.48,1169.91 L185.98,1169.75 L187.48,1169.57 L188.98,1169.39 L190.47,1169.2 L191.97,1169 L193.47,1168.79 L194.97,1168.57 L196.46,1168.35 L197.95,1168.11 L199.45,1167.87 L200.94,1167.62 L202.43,1167.36 L203.91,1167.1 L205.4,1166.82 L206.89,1166.54 L208.37,1166.25 L209.85,1165.95 L211.33,1165.65 L212.81,1165.33 L214.28,1165.01 L215.75,1164.68 L217.22,1164.35 L218.69,1164.01 L220.16,1163.66 L221.62,1163.3 L223.08,1162.93 L224.53,1162.55 L225.97,1162.15 L227.41,1161.75 L228.84,1161.33 L230.26,1160.89 L231.68,1160.43 L233.08,1159.96 L234.47,1159.47 L235.85,1158.95 L237.22,1158.42 L238.57,1157.86 L239.91,1157.28 L241.24,1156.67 L242.54,1156.04 L243.84,1155.38 L245.11,1154.69 L246.36,1153.97 L247.6,1153.22 L248.82,1152.43 L250.01,1151.62 L251.19,1150.77 L252.34,1149.88 L253.47,1148.96 L254.57,1147.99 L255.65,1147 L256.71,1145.96 L257.74,1144.9 L258.76,1143.8 L259.75,1142.68 L260.72,1141.52 L261.68,1140.34 L262.61,1139.14 L263.53,1137.92 L264.42,1136.67 L265.3,1135.41 L266.17,1134.13 L267.01,1132.83 L267.84,1131.52 L268.66,1130.2 L269.47,1128.87 L270.25,1127.53 L271.03,1126.19 L271.8,1124.84 L272.55,1123.48 L273.29,1122.13 L274.02,1120.77 L274.74,1119.4 L275.44,1118.04 L276.14,1116.67 L276.82,1115.3 L277.49,1113.92 L278.16,1112.55 L278.81,1111.17 L279.45,1109.78 L280.08,1108.4 L280.7,1107.01 L281.31,1105.62 L281.91,1104.22 L282.5,1102.83 L283.09,1101.43 L283.66,1100.03 L284.22,1098.62 L284.77,1097.21 L285.31,1095.81 L285.85,1094.39 L286.37,1092.98 L286.89,1091.56 L287.4,1090.14 L287.9,1088.72 L288.39,1087.3 L288.87,1085.88 L289.34,1084.45 L289.81,1083.02 L290.27,1081.59 L290.72,1080.15 L291.16,1078.72 L291.6,1077.28 L292.02,1075.84 L292.44,1074.4 L292.86,1072.96 L293.26,1071.51 L293.66,1070.07 L294.06,1068.62 L294.44,1067.17 L294.82,1065.72 L295.19,1064.27 L295.56,1062.81 L295.92,1061.36 L296.28,1059.9 L296.62,1058.44 L296.97,1056.98 L297.3,1055.52 L297.64,1054.06 L297.96,1052.59 L298.28,1051.13 L298.6,1049.66 L298.91,1048.19 L299.22,1046.72 L299.52,1045.25 L299.82,1043.78 L300.11,1042.31 L300.4,1040.84 L300.68,1039.37 L300.96,1037.89 L301.24,1036.42 L301.51,1034.94 L301.78,1033.46 L302.04,1031.99 L302.3,1030.51 L302.56,1029.03 L302.82,1027.55 L303.07,1026.07 L303.32,1024.59 L303.56,1023.11 L303.81,1021.63 L304.05,1020.14 L304.29,1018.66 L304.52,1017.18 L304.76,1015.7 L304.99,1014.22 L305.22,1012.73 L305.45,1011.25 L305.68,1009.77 L305.9,1008.28 L306.12,1006.8 L306.35,1005.32 L306.57,1003.83 L306.79,1002.35 L307.01,1000.87 L307.23,999.38 L307.45,997.9 L307.67,996.42 L307.88,994.93 L308.1,993.45 L308.32,991.97 L308.54,990.49 L308.75,989.01 L308.97,987.53 L309.19,986.05 L309.41,984.57 L309.63,983.09 L309.85,981.61 L310.07,980.13 L310.29,978.66 L310.52,977.18 L310.74,975.71 L310.97,974.23 L311.19,972.76 L311.42,971.28 L311.65,969.81 L311.88,968.34 L312.11,966.87 L312.34,965.39 L312.57,963.92 L312.8,962.45 L313.03,960.98 L313.26,959.51 L313.5,958.04 L313.73,956.56 L313.96,955.09 L314.19,953.62 L314.43,952.15 L314.66,950.68 L314.89,949.2 L315.12,947.73 L315.35,946.26 L315.58,944.79 L315.81,943.31 L316.04,941.84 L316.27,940.36 L316.5,938.89 L316.72,937.41 L316.95,935.93 L317.17,934.46 L317.4,932.98 L317.62,931.5 L317.84,930.02 L318.06,928.53 L318.28,927.05 L318.5,925.57 L318.72,924.08 L318.93,922.6 L319.14,921.11 L319.36,919.62 L319.56,918.13 L319.77,916.64 L319.98,915.14 L320.18,913.65 L320.38,912.15 L320.58,910.66 L320.78,909.16 L320.97,907.65 L321.17,906.15 L321.36,904.65 L321.54,903.14 L321.73,901.63 L321.91,900.12 L322.09,898.61 L322.27,897.09 L322.44,895.57 L322.61,894.05 L322.78,892.53 L322.94,891.01 L323.11,889.48 L323.27,887.95 L323.42,886.42 L323.58,884.89 L323.73,883.36 L323.88,881.83 L324.03,880.29 L324.19,878.76 L324.34,877.22 L324.49,875.68 L324.64,874.15 L324.79,872.61 L324.95,871.08 L325.1,869.54 L325.26,868.01 L325.42,866.47 L325.58,864.94 L325.74,863.41 L325.91,861.88 L326.08,860.36 L326.26,858.83 L326.44,857.31 L326.62,855.79 L326.81,854.28 L327.01,852.76 L327.21,851.25 L327.41,849.75 L327.62,848.24 L327.84,846.74 L328.07,845.25 L328.3,843.76 L328.54,842.27 L328.79,840.79 L329.05,839.32 L329.32,837.84 L329.59,836.38 L329.88,834.92 L330.17,833.47 L330.47,832.02 L330.79,830.58 L331.11,829.14 L331.45,827.71 L331.8,826.29 L332.16,824.88 L332.53,823.47 L332.91,822.07 L333.31,820.68 L333.72,819.3 L334.14,817.92 L334.58,816.56 L335.03,815.2 L335.49,813.85 L335.98,812.51 L336.47,811.18 L336.98,809.86 L337.51,808.55 L338.05,807.31 L338.62,806.18 L339.22,805.25 L339.84,804.58 L340.5,804.24 L341.19,804.24 L341.91,804.56 L342.63,805.16 L343.35,806 L344.07,807.04 L344.75,808.24 L345.41,809.56 L346.01,810.96 L346.57,812.42 L347.08,813.92 L347.54,815.47 L347.97,817.04 L348.36,818.65 L348.71,820.27 L349.04,821.92 L349.34,823.57 L349.63,825.23 L349.9,826.88 L350.16,828.53 L350.41,830.16 L350.65,831.78 L350.88,833.39 L351.11,834.99 L351.33,836.58 L351.54,838.15 L351.75,839.72 L351.95,841.28 L352.14,842.83 L352.33,844.37 L352.52,845.9 L352.7,847.43 L352.87,848.94 L353.05,850.46 L353.22,851.96 L353.38,853.47 L353.54,854.96 L353.7,856.46 L353.86,857.94 L354.02,859.43 L354.17,860.91 L354.33,862.4 L354.48,863.88 L354.63,865.35 L354.79,866.83 L354.94,868.31 L355.09,869.79 L355.25,871.27 L355.4,872.74 L355.55,874.22 L355.71,875.7 L355.87,877.18 L356.02,878.66 L356.18,880.14 L356.33,881.62 L356.49,883.1 L356.65,884.58 L356.81,886.06 L356.97,887.54 L357.12,889.02 L357.28,890.5 L357.44,891.98 L357.61,893.46 L357.77,894.94 L357.93,896.42 L358.09,897.9 L358.25,899.38 L358.42,900.86 L358.58,902.34 L358.75,903.82 L358.91,905.31 L359.08,906.79 L359.24,908.27 L359.41,909.75 L359.58,911.23 L359.75,912.72 L359.92,914.2 L360.08,915.68 L360.26,917.17 L360.43,918.65 L360.6,920.13 L360.77,921.62 L360.94,923.1 L361.12,924.58 L361.29,926.07 L361.47,927.55 L361.64,929.04 L361.82,930.52 L362,932.01 L362.17,933.49 L362.35,934.98 L362.53,936.46 L362.71,937.95 L362.89,939.43 L363.08,940.92 L363.26,942.4 L363.44,943.89 L363.63,945.38 L363.81,946.86 L364,948.35 L364.19,949.84 L364.37,951.32 L364.56,952.81 L364.75,954.3 L364.94,955.79 L365.13,957.27 L365.33,958.76 L365.52,960.25 L365.71,961.74 L365.91,963.23 L366.1,964.72 L366.3,966.2 L366.5,967.69 L366.7,969.18 L366.9,970.67 L367.1,972.16 L367.3,973.65 L367.5,975.14 L367.7,976.63 L367.91,978.12 L368.11,979.61 L368.32,981.1 L368.53,982.59 L368.74,984.09 L368.95,985.58 L369.16,987.07 L369.37,988.56 L369.58,990.05 L369.79,991.54 L370.01,993.04 L370.23,994.53 L370.44,996.02 L370.66,997.51 L370.88,999.01 L371.1,1000.5 L371.32,1001.99 L371.55,1003.49 L371.77,1004.98 L371.99,1006.48 L372.22,1007.97 L372.45,1009.46 L372.68,1010.96 L372.91,1012.45 L373.14,1013.95 L373.37,1015.44 L373.6,1016.94 L373.84,1018.44 L374.07,1019.93 L374.31,1021.43 L374.55,1022.92 L374.79,1024.42 L375.03,1025.92 L375.27,1027.41 L375.51,1028.91 L375.76,1030.41 L376,1031.91 L376.25,1033.4 L376.5,1034.9 L376.75,1036.4 L377,1037.9 L377.25,1039.4 L377.51,1040.9 L377.76,1042.4 L378.02,1043.89 L378.28,1045.39 L378.54,1046.89 L378.8,1048.39 L379.06,1049.89 L379.32,1051.39 L379.59,1052.89 L379.85,1054.4 L380.12,1055.9 L380.39,1057.4 L380.67,1058.9 L380.94,1060.4 L381.22,1061.89 L381.5,1063.39 L381.79,1064.89 L382.08,1066.38 L382.37,1067.88 L382.67,1069.37 L382.97,1070.86 L383.28,1072.35 L383.59,1073.84 L383.91,1075.32 L384.23,1076.8 L384.56,1078.28 L384.9,1079.76 L385.24,1081.23 L385.59,1082.7 L385.95,1084.17 L386.32,1085.63 L386.69,1087.09 L387.07,1088.55 L387.46,1090 L387.86,1091.45 L388.27,1092.89 L388.69,1094.33 L389.11,1095.76 L389.55,1097.19 L390,1098.61 L390.46,1100.03 L390.92,1101.44 L391.4,1102.85 L391.89,1104.25 L392.4,1105.65 L392.91,1107.04 L393.44,1108.42 L393.98,1109.8 L394.53,1111.16 L395.09,1112.53 L395.67,1113.88 L396.26,1115.23 L396.87,1116.57 L397.49,1117.91 L398.12,1119.23 L398.77,1120.55 L399.43,1121.86 L400.11,1123.16 L400.81,1124.46 L401.52,1125.74 L402.25,1127.02 L402.99,1128.28 L403.75,1129.54 L404.53,1130.79 L405.33,1132.03 L406.14,1133.26 L406.97,1134.48 L407.82,1135.69 L408.69,1136.89 L409.57,1138.07 L410.48,1139.25 L411.4,1140.42 L412.35,1141.58 L413.31,1142.72 L414.3,1143.86 L415.3,1144.98 L416.33,1146.09 L417.38,1147.18 L418.44,1148.25 L419.53,1149.3 L420.64,1150.33 L421.77,1151.33 L422.93,1152.3 L424.1,1153.24 L425.29,1154.15 L426.51,1155.02 L427.75,1155.86 L429.01,1156.65 L430.29,1157.4 L431.59,1158.11 L432.92,1158.77 L434.26,1159.39 L435.63,1159.97 L437.01,1160.51 L438.4,1161.02 L439.81,1161.5 L441.24,1161.95 L442.68,1162.37 L444.12,1162.77 L445.58,1163.16 L447.04,1163.52 L448.51,1163.87 L449.98,1164.21 L451.46,1164.54 L452.94,1164.87 L454.41,1165.19 L455.89,1165.52 L457.37,1165.84 L458.85,1166.15 L460.33,1166.47 L461.81,1166.78 L463.29,1167.1 L464.77,1167.41 L466.25,1167.72 L467.73,1168.02 L469.21,1168.33 L470.69,1168.63 L472.17,1168.93 L473.65,1169.23 L475.13,1169.53 L476.61,1169.82 L478.1,1170.12 L479.58,1170.41 L481.06,1170.7 L482.54,1170.99 L484.02,1171.27 L485.5,1171.56 L486.98,1171.84 L488.47,1172.12 L489.95,1172.4 L491.43,1172.68 L492.91,1172.95 L494.4,1173.22 L495.88,1173.49 L497.36,1173.76 L498.84,1174.03 L500.33,1174.3 L501.81,1174.56 L503.29,1174.82 L504.78,1175.08 L506.26,1175.34 L507.75,1175.6 L509.23,1175.85 L510.71,1176.11 L512.2,1176.36 L513.68,1176.61 L515.17,1176.85 L516.65,1177.1 L518.14,1177.34 L519.62,1177.59 L521.11,1177.83 L522.59,1178.06 L524.08,1178.3 L525.56,1178.53 L527.05,1178.77 L528.53,1179 L530.02,1179.23 L531.51,1179.46 L532.99,1179.68 L534.48,1179.91 L535.96,1180.13 L537.45,1180.35 L538.94,1180.57 L540.43,1180.78 L541.91,1181 L543.4,1181.21 L544.89,1181.42 L546.37,1181.63 L547.86,1181.84 L549.35,1182.05 L550.84,1182.25 L552.33,1182.45 L553.82,1182.66 L555.3,1182.85 L556.79,1183.05 L558.28,1183.25 L559.77,1183.44 L561.26,1183.63 L562.75,1183.82 L564.24,1184.01 L565.73,1184.2 L567.22,1184.39 L568.71,1184.57 L570.2,1184.75 L571.69,1184.93 L573.18,1185.11 L574.67,1185.29 L576.16,1185.46 L577.65,1185.63 L579.14,1185.8 L580.63,1185.97 L582.12,1186.14 L583.61,1186.31 L585.11,1186.47 L586.6,1186.64 L588.09,1186.8 L589.58,1186.96 L591.07,1187.11 L592.57,1187.27 L594.06,1187.42 L595.55,1187.58 L597.04,1187.73 L598.54,1187.88 L600.03,1188.02 L601.52,1188.17 L603.02,1188.31 L604.51,1188.46 L606.01,1188.6 L607.5,1188.74 L608.99,1188.87 L610.49,1189.01 L611.98,1189.14 L613.48,1189.28 L614.97,1189.41 L616.47,1189.54 L617.96,1189.66 L619.46,1189.79 L620.95,1189.91 L622.45,1190.04 L623.95,1190.16 L625.44,1190.28 L626.94,1190.39 L628.43,1190.51 L629.93,1190.62 L631.43,1190.74 L632.92,1190.85 L634.42,1190.96 L635.92,1191.06 L637.42,1191.17 L638.91,1191.27 L640.41,1191.38 L641.91,1191.48 L643.41,1191.58 L644.91,1191.67 L646.4,1191.77 L647.9,1191.87 L649.4,1191.96 L650.9,1192.05 L652.4,1192.14 L653.9,1192.23 L655.4,1192.31 L656.9,1192.4 L658.4,1192.48 L659.9,1192.56 L661.4,1192.63 L662.9,1192.71 L664.4,1192.78 L665.9,1192.86 L667.4,1192.92 L668.9,1192.99 L670.4,1193.06 L671.9,1193.12 L673.4,1193.18 L674.9,1193.23 L676.4,1193.29 L677.9,1193.34 L679.4,1193.39 L680.9,1193.44 L682.4,1193.48 L683.9,1193.52 L685.4,1193.56 L686.91,1193.6 L688.41,1193.63 L689.91,1193.66 L691.41,1193.69 L692.91,1193.71 L694.41,1193.73 L695.91,1193.75 L697.41,1193.77 L698.91,1193.78 L700.41,1193.79 L701.91,1193.79 L703.41,1193.79 L704.91,1193.79 L706.41,1193.79 L707.91,1193.78 L709.41,1193.77 L710.91,1193.75 L712.41,1193.73 L713.91,1193.71 L715.41,1193.68 L716.91,1193.65 L718.41,1193.62 L719.91,1193.58 L721.41,1193.54 L722.91,1193.49 L724.41,1193.44 L725.91,1193.39 L727.41,1193.33 L728.91,1193.27 L730.4,1193.2 L731.9,1193.13 L733.4,1193.06 L734.9,1192.98 L736.39,1192.9 L737.89,1192.81 L739.39,1192.72 L740.89,1192.62 L742.38,1192.52 L743.88,1192.42 L745.38,1192.31 L746.87,1192.19 L748.37,1192.07 L749.86,1191.95 L751.36,1191.82 L752.85,1191.69 L754.35,1191.55 L755.84,1191.41 L757.34,1191.26 L758.83,1191.11 L760.32,1190.95 L761.82,1190.79 L763.31,1190.62 L764.8,1190.44 L766.29,1190.27 L767.79,1190.08 L769.28,1189.89 L770.77,1189.7 L772.26,1189.5 L773.75,1189.29 L775.24,1189.08 L776.73,1188.86 L778.22,1188.64 L779.71,1188.41 L781.2,1188.18 L782.68,1187.94 L784.17,1187.7 L785.66,1187.45 L787.15,1187.19 L788.63,1186.93 L790.12,1186.66 L791.6,1186.38 L793.09,1186.1 L794.57,1185.82 L796.06,1185.52 L797.54,1185.22 L799.03,1184.92 L800.51,1184.61 L801.99,1184.29 L803.47,1183.97 L804.96,1183.64 L806.44,1183.3 L807.92,1182.96" fill="none" stroke="#0000e0" stroke-width="4" stroke-linejoin="round" stroke-linecap="round" stroke-dasharray="15.5 23.5"/>
<path d="M64.96,1162.03 L66.65,1162.04 L68.32,1162.04 L69.97,1162.05 L71.61,1162.06 L73.24,1162.08 L74.85,1162.1 L76.44,1162.12 L78.02,1162.15 L79.59,1162.18 L81.15,1162.21 L82.69,1162.24 L84.22,1162.28 L85.74,1162.32 L87.25,1162.36 L88.75,1162.4 L90.24,1162.45 L91.72,1162.5 L93.19,1162.55 L94.65,1162.6 L96.1,1162.65 L97.55,1162.71 L98.99,1162.77 L100.43,1162.83 L101.85,1162.89 L103.28,1162.95 L104.69,1163.01 L106.11,1163.07 L107.51,1163.14 L108.92,1163.2 L110.32,1163.27 L111.72,1163.34 L113.12,1163.4 L114.52,1163.47 L115.91,1163.54 L117.31,1163.61 L118.7,1163.67 L120.1,1163.74 L121.49,1163.81 L122.89,1163.88 L124.29,1163.95 L125.69,1164.01 L127.1,1164.08 L128.5,1164.15 L129.92,1164.21 L131.33,1164.28 L132.75,1164.34 L134.18,1164.4 L135.61,1164.46 L137.05,1164.52 L138.5,1164.58 L139.95,1164.64 L141.41,1164.69 L142.88,1164.75 L144.36,1164.8 L145.84,1164.85 L147.34,1164.9 L148.85,1164.94 L150.37,1164.98 L151.89,1165.03 L153.44,1165.06 L154.99,1165.1 L156.55,1165.13 L158.13,1165.16 L159.72,1165.19 L161.33,1165.22 L162.95,1165.24 L164.57,1165.25 L166.21,1165.26 L167.85,1165.26 L169.5,1165.25 L171.15,1165.23 L172.81,1165.21 L174.47,1165.17 L176.12,1165.12 L177.78,1165.05 L179.44,1164.97 L181.09,1164.88 L182.73,1164.77 L184.37,1164.65 L186.01,1164.51 L187.63,1164.35 L189.24,1164.16 L190.84,1163.96 L192.43,1163.74 L194,1163.5 L195.56,1163.23 L197.1,1162.93 L198.62,1162.62 L200.12,1162.27 L201.6,1161.9 L203.06,1161.5 L204.49,1161.07 L205.89,1160.62 L207.27,1160.13 L208.63,1159.61 L209.95,1159.06 L211.25,1158.48 L212.52,1157.87 L213.77,1157.23 L214.99,1156.56 L216.19,1155.87 L217.37,1155.15 L218.51,1154.4 L219.64,1153.62 L220.74,1152.82 L221.82,1151.99 L222.88,1151.14 L223.91,1150.26 L224.93,1149.36 L225.92,1148.44 L226.89,1147.49 L227.84,1146.52 L228.77,1145.52 L229.68,1144.51 L230.57,1143.47 L231.44,1142.41 L232.29,1141.34 L233.12,1140.24 L233.94,1139.12 L234.74,1137.98 L235.52,1136.83 L236.28,1135.65 L237.03,1134.46 L237.76,1133.25 L238.48,1132.03 L239.18,1130.79 L239.87,1129.53 L240.54,1128.26 L241.2,1126.97 L241.84,1125.67 L242.47,1124.35 L243.09,1123.02 L243.69,1121.68 L244.28,1120.33 L244.87,1118.96 L245.43,1117.58 L245.99,1116.19 L246.54,1114.79 L247.08,1113.38 L247.61,1111.96 L248.12,1110.53 L248.63,1109.09 L249.13,1107.65 L249.62,1106.19 L250.11,1104.73 L250.58,1103.27 L251.05,1101.79 L251.51,1100.31 L251.97,1098.82 L252.42,1097.33 L252.86,1095.84 L253.3,1094.34 L253.73,1092.84 L254.16,1091.33 L254.59,1089.82 L255.01,1088.31 L255.42,1086.8 L255.84,1085.28 L256.25,1083.77 L256.66,1082.25 L257.07,1080.74 L257.47,1079.23 L257.88,1077.71 L258.28,1076.2 L258.68,1074.69 L259.08,1073.18 L259.48,1071.67 L259.88,1070.16 L260.28,1068.66 L260.68,1067.15 L261.08,1065.65 L261.47,1064.15 L261.87,1062.64 L262.26,1061.14 L262.65,1059.64 L263.04,1058.15 L263.44,1056.65 L263.82,1055.15 L264.21,1053.66 L264.6,1052.16 L264.99,1050.67 L265.37,1049.18 L265.76,1047.69 L266.14,1046.2 L266.53,1044.71 L266.91,1043.22 L267.29,1041.73 L267.67,1040.24 L268.05,1038.76 L268.43,1037.27 L268.81,1035.79 L269.18,1034.31 L269.56,1032.83 L269.93,1031.34 L270.31,1029.86 L270.68,1028.39 L271.05,1026.91 L271.43,1025.43 L271.8,1023.95 L272.17,1022.48 L272.54,1021 L272.91,1019.53 L273.27,1018.05 L273.64,1016.58 L274.01,1015.11 L274.37,1013.64 L274.74,1012.16 L275.1,1010.69 L275.46,1009.23 L275.83,1007.76 L276.19,1006.29 L276.55,1004.82 L276.91,1003.35 L277.27,1001.89 L277.63,1000.42 L277.98,998.96 L278.34,997.49 L278.7,996.03 L279.05,994.57 L279.41,993.11 L279.76,991.64 L280.12,990.18 L280.47,988.72 L280.82,987.26 L281.17,985.8 L281.52,984.34 L281.87,982.89 L282.22,981.43 L282.57,979.97 L282.92,978.51 L283.27,977.06 L283.61,975.6 L283.96,974.15 L284.31,972.69 L284.65,971.24 L285,969.78 L285.34,968.33 L285.68,966.87 L286.03,965.42 L286.37,963.97 L286.71,962.52 L287.05,961.06 L287.39,959.61 L287.73,958.16 L288.07,956.71 L288.41,955.26 L288.75,953.81 L289.09,952.36 L289.42,950.91 L289.76,949.46 L290.1,948.01 L290.43,946.56 L290.77,945.11 L291.1,943.66 L291.44,942.22 L291.77,940.77 L292.1,939.32 L292.44,937.87 L292.77,936.42 L293.1,934.98 L293.43,933.53 L293.76,932.08 L294.09,930.64 L294.42,929.19 L294.75,927.74 L295.08,926.3 L295.41,924.85 L295.74,923.4 L296.07,921.96 L296.4,920.51 L296.72,919.06 L297.05,917.62 L297.38,916.17 L297.7,914.72 L298.03,913.28 L298.35,911.83 L298.68,910.39 L299,908.94 L299.33,907.49 L299.65,906.05 L299.98,904.6 L300.3,903.15 L300.62,901.71 L300.95,900.26 L301.27,898.81 L301.59,897.37 L301.91,895.92 L302.23,894.47 L302.56,893.02 L302.88,891.58 L303.2,890.13 L303.52,888.68 L303.84,887.23 L304.16,885.78 L304.48,884.33 L304.8,882.89 L305.12,881.44 L305.44,879.99 L305.75,878.54 L306.07,877.09 L306.39,875.64 L306.71,874.19 L307.03,872.74 L307.35,871.29 L307.66,869.83 L307.98,868.38 L308.3,866.93 L308.62,865.48 L308.93,864.03 L309.25,862.57 L309.57,861.12 L309.88,859.67 L310.2,858.21 L310.52,856.76 L310.83,855.3 L311.15,853.85 L311.46,852.39 L311.78,850.93 L312.1,849.48 L312.41,848.02 L312.73,846.56 L313.04,845.1 L313.36,843.64 L313.67,842.18 L313.99,840.72 L314.3,839.26 L314.62,837.8 L314.93,836.34 L315.25,834.88 L315.56,833.42 L315.88,831.95 L316.19,830.49 L316.51,829.02 L316.82,827.56 L317.14,826.09 L317.46,824.62 L317.77,823.15 L318.09,821.68 L318.41,820.21 L318.73,818.73 L319.04,817.25 L319.36,815.78 L319.68,814.29 L320,812.81 L320.33,811.33 L320.65,809.84 L320.97,808.35 L321.3,806.85 L321.62,805.36 L321.95,803.86 L322.28,802.35 L322.61,800.85 L322.94,799.34 L323.28,797.82 L323.61,796.31 L323.95,794.78 L324.29,793.26 L324.63,791.73 L324.97,790.2 L325.31,788.66 L325.66,787.12 L326.01,785.57 L326.36,784.02 L326.71,782.46 L327.07,780.9 L327.42,779.33 L327.78,777.76 L328.14,776.18 L328.51,774.6 L328.88,773.01 L329.25,771.42 L329.62,769.82 L330,768.21 L330.37,766.6 L330.76,764.99 L331.16,763.41 L331.57,761.87 L332.01,760.39 L332.48,758.98 L332.97,757.67 L333.51,756.46 L334.09,755.39 L334.72,754.45 L335.41,753.68 L336.15,753.09 L336.96,752.7 L337.84,752.51 L338.79,752.56 L339.8,752.8 L340.85,753.24 L341.94,753.84 L343.04,754.59 L344.14,755.47 L345.23,756.46 L346.29,757.53 L347.32,758.68 L348.28,759.87 L349.19,761.1 L350.03,762.36 L350.81,763.66 L351.54,764.98 L352.21,766.33 L352.84,767.71 L353.42,769.11 L353.96,770.53 L354.45,771.97 L354.91,773.43 L355.34,774.91 L355.74,776.4 L356.1,777.9 L356.45,779.42 L356.77,780.94 L357.07,782.47 L357.36,784 L357.64,785.54 L357.9,787.08 L358.16,788.61 L358.42,790.15 L358.68,791.68 L358.94,793.2 L359.2,794.72 L359.47,796.23 L359.74,797.74 L360.01,799.24 L360.28,800.74 L360.56,802.23 L360.84,803.72 L361.12,805.2 L361.4,806.68 L361.69,808.15 L361.97,809.62 L362.26,811.09 L362.55,812.56 L362.84,814.02 L363.13,815.48 L363.42,816.93 L363.72,818.39 L364.01,819.84 L364.3,821.29 L364.59,822.74 L364.89,824.19 L365.18,825.64 L365.47,827.09 L365.76,828.54 L366.05,829.98 L366.34,831.43 L366.63,832.88 L366.91,834.33 L367.2,835.78 L367.48,837.23 L367.76,838.69 L368.04,840.14 L368.32,841.6 L368.59,843.06 L368.87,844.52 L369.14,845.99 L369.4,847.45 L369.67,848.92 L369.93,850.39 L370.19,851.87 L370.45,853.34 L370.7,854.82 L370.95,856.3 L371.2,857.78 L371.45,859.27 L371.7,860.75 L371.94,862.24 L372.18,863.73 L372.42,865.22 L372.66,866.71 L372.89,868.21 L373.13,869.71 L373.36,871.2 L373.59,872.7 L373.81,874.2 L374.03,875.71 L374.26,877.21 L374.48,878.72 L374.69,880.22 L374.91,881.73 L375.12,883.24 L375.33,884.75 L375.54,886.26 L375.75,887.77 L375.95,889.28 L376.16,890.8 L376.36,892.31 L376.56,893.83 L376.76,895.35 L376.95,896.86 L377.15,898.38 L377.34,899.89 L377.53,901.4 L377.73,902.91 L377.92,904.41 L378.12,905.91 L378.31,907.4 L378.51,908.88 L378.71,910.36 L378.91,911.83 L379.11,913.29 L379.31,914.74 L379.52,916.18 L379.73,917.61 L379.95,919.02 L380.17,920.42 L380.39,921.81 L380.62,923.19 L380.85,924.56 L381.1,925.93 L381.35,927.3 L381.62,928.67 L381.9,930.06 L382.19,931.46 L382.5,932.89 L382.84,934.34 L383.19,935.82 L383.56,937.34 L383.96,938.89 L384.38,940.49 L384.83,942.14 L385.31,943.84 L385.82,945.59 L386.35,947.36 L386.92,949.12 L387.51,950.85 L388.13,952.52 L388.77,954.1 L389.43,955.57 L390.12,956.9 L390.83,958.05 L391.56,959.01 L392.31,959.75 L393.08,960.24 L393.86,960.44 L394.66,960.35 L395.48,959.97 L396.3,959.33 L397.12,958.47 L397.94,957.42 L398.75,956.21 L399.55,954.88 L400.33,953.46 L401.08,951.98 L401.8,950.47 L402.49,948.96 L403.15,947.45 L403.78,945.95 L404.38,944.44 L404.94,942.93 L405.48,941.43 L406,939.93 L406.49,938.43 L406.96,936.93 L407.4,935.43 L407.83,933.94 L408.24,932.45 L408.62,930.96 L408.99,929.47 L409.35,927.99 L409.69,926.51 L410.02,925.03 L410.34,923.56 L410.64,922.09 L410.94,920.62 L411.23,919.16 L411.52,917.7 L411.8,916.25 L412.07,914.8 L412.34,913.36 L412.62,911.92 L412.89,910.48 L413.16,909.05 L413.43,907.63 L413.71,906.21 L413.98,904.79 L414.25,903.37 L414.52,901.96 L414.78,900.54 L415.05,899.13 L415.31,897.72 L415.57,896.3 L415.83,894.89 L416.09,893.47 L416.34,892.05 L416.59,890.63 L416.84,889.2 L417.08,887.77 L417.31,886.34 L417.54,884.9 L417.77,883.45 L417.99,882 L418.21,880.54 L418.42,879.08 L418.62,877.6 L418.82,876.12 L419.01,874.62 L419.19,873.12 L419.37,871.61 L419.54,870.08 L419.7,868.54 L419.85,867 L420,865.43 L420.13,863.86 L420.26,862.27 L420.37,860.67 L420.49,859.05 L420.59,857.43 L420.69,855.8 L420.79,854.16 L420.9,852.52 L421,850.88 L421.11,849.24 L421.22,847.6 L421.34,845.97 L421.47,844.35 L421.61,842.73 L421.77,841.13 L421.93,839.54 L422.12,837.97 L422.32,836.41 L422.55,834.88 L422.79,833.37 L423.06,831.88 L423.35,830.42 L423.67,828.98 L424.02,827.58 L424.4,826.21 L424.82,824.87 L425.26,823.57 L425.75,822.31 L426.27,821.09 L426.84,819.94 L427.47,818.94 L428.19,818.18 L429.01,817.75 L429.97,817.75 L431.03,818.15 L432.13,818.79 L433.2,819.54 L434.22,820.34 L435.18,821.2 L436.1,822.1 L436.97,823.05 L437.79,824.05 L438.56,825.09 L439.3,826.17 L439.99,827.29 L440.65,828.45 L441.26,829.64 L441.84,830.87 L442.39,832.13 L442.91,833.42 L443.4,834.74 L443.85,836.09 L444.29,837.46 L444.69,838.86 L445.08,840.27 L445.44,841.71 L445.79,843.16 L446.12,844.64 L446.43,846.12 L446.73,847.62 L447.01,849.13 L447.29,850.64 L447.56,852.17 L447.82,853.7 L448.08,855.23 L448.33,856.77 L448.59,858.3 L448.84,859.84 L449.1,861.37 L449.35,862.9 L449.61,864.43 L449.86,865.96 L450.12,867.48 L450.37,869.01 L450.63,870.54 L450.89,872.06 L451.15,873.58 L451.41,875.1 L451.67,876.62 L451.93,878.14 L452.19,879.66 L452.45,881.17 L452.71,882.69 L452.97,884.2 L453.24,885.71 L453.5,887.22 L453.77,888.73 L454.03,890.24 L454.3,891.75 L454.57,893.25 L454.84,894.76 L455.11,896.26 L455.38,897.76 L455.65,899.26 L455.92,900.76 L456.2,902.26 L456.47,903.76 L456.75,905.25 L457.02,906.75 L457.3,908.24 L457.58,909.74 L457.87,911.23 L458.15,912.72 L458.43,914.21 L458.72,915.69 L459,917.18 L459.29,918.66 L459.58,920.15 L459.87,921.63 L460.17,923.11 L460.46,924.59 L460.76,926.07 L461.05,927.55 L461.35,929.03 L461.65,930.5 L461.96,931.98 L462.26,933.45 L462.57,934.93 L462.87,936.4 L463.18,937.87 L463.49,939.34 L463.81,940.8 L464.12,942.27 L464.44,943.74 L464.76,945.2 L465.08,946.67 L465.4,948.13 L465.73,949.59 L466.05,951.05 L466.38,952.51 L466.72,953.97 L467.05,955.42 L467.38,956.88 L467.72,958.33 L468.06,959.79 L468.4,961.24 L468.75,962.69 L469.1,964.14 L469.45,965.59 L469.8,967.04 L470.15,968.49 L470.51,969.93 L470.87,971.38 L471.23,972.82 L471.59,974.27 L471.96,975.71 L472.33,977.15 L472.7,978.59 L473.08,980.03 L473.45,981.47 L473.83,982.9 L474.22,984.34 L474.6,985.77 L474.99,987.21 L475.38,988.64 L475.78,990.07 L476.17,991.5 L476.57,992.93 L476.98,994.36 L477.38,995.79 L477.79,997.22 L478.2,998.64 L478.62,1000.07 L479.04,1001.49 L479.46,1002.91 L479.88,1004.33 L480.31,1005.76 L480.74,1007.18 L481.17,1008.59 L481.61,1010.01 L482.05,1011.43 L482.49,1012.85 L482.94,1014.26 L483.39,1015.67 L483.85,1017.09 L484.3,1018.5 L484.76,1019.91 L485.23,1021.32 L485.7,1022.73 L486.17,1024.14 L486.64,1025.55 L487.12,1026.95 L487.6,1028.36 L488.09,1029.76 L488.58,1031.17 L489.07,1032.57 L489.57,1033.97 L490.07,1035.38 L490.58,1036.78 L491.09,1038.18 L491.6,1039.57 L492.12,1040.97 L492.64,1042.37 L493.16,1043.76 L493.69,1045.16 L494.22,1046.55 L494.76,1047.95 L495.3,1049.34 L495.84,1050.73 L496.39,1052.12 L496.95,1053.51 L497.5,1054.9 L498.07,1056.29 L498.63,1057.68 L499.2,1059.06 L499.78,1060.45 L500.35,1061.83 L500.94,1063.22 L501.53,1064.6 L502.12,1065.98 L502.71,1067.36 L503.31,1068.74 L503.92,1070.12 L504.53,1071.5 L505.15,1072.88 L505.76,1074.26 L506.39,1075.64 L507.02,1077.01 L507.65,1078.39 L508.29,1079.76 L508.93,1081.13 L509.58,1082.51 L510.23,1083.88 L510.89,1085.25 L511.55,1086.62 L512.22,1087.99 L512.89,1089.36 L513.57,1090.73 L514.25,1092.09 L514.94,1093.46 L515.63,1094.83 L516.33,1096.19 L517.03,1097.56 L517.74,1098.92 L518.45,1100.28 L519.17,1101.64 L519.89,1103 L520.62,1104.37 L521.35,1105.73 L522.09,1107.08 L522.83,1108.44 L523.58,1109.8 L524.34,1111.16 L525.1,1112.51 L525.87,1113.86 L526.64,1115.2 L527.43,1116.55 L528.22,1117.88 L529.01,1119.21 L529.82,1120.54 L530.63,1121.85 L531.46,1123.16 L532.29,1124.46 L533.13,1125.76 L533.98,1127.04 L534.84,1128.31 L535.71,1129.57 L536.59,1130.82 L537.48,1132.06 L538.38,1133.29 L539.29,1134.5 L540.22,1135.69 L541.15,1136.88 L542.1,1138.04 L543.06,1139.19 L544.04,1140.33 L545.03,1141.44 L546.03,1142.54 L547.04,1143.62 L548.07,1144.68 L549.11,1145.72 L550.17,1146.74 L551.24,1147.74 L552.33,1148.72 L553.44,1149.67 L554.55,1150.6 L555.69,1151.51 L556.84,1152.39 L558.01,1153.25 L559.2,1154.08 L560.4,1154.89 L561.62,1155.66 L562.86,1156.41 L564.12,1157.13 L565.39,1157.83 L566.69,1158.49 L568,1159.12 L569.33,1159.73 L570.67,1160.31 L572.04,1160.86 L573.42,1161.39 L574.81,1161.89 L576.21,1162.37 L577.63,1162.82 L579.07,1163.25 L580.51,1163.67 L581.96,1164.06 L583.42,1164.43 L584.9,1164.78 L586.38,1165.12 L587.87,1165.44 L589.36,1165.75 L590.86,1166.04 L592.37,1166.31 L593.88,1166.58 L595.4,1166.83 L596.92,1167.07 L598.44,1167.3 L599.96,1167.52 L601.48,1167.73 L603,1167.93 L604.53,1168.13 L606.05,1168.32 L607.57,1168.5 L609.08,1168.68 L610.6,1168.86 L612.12,1169.03 L613.63,1169.19 L615.14,1169.35 L616.66,1169.5 L618.17,1169.65 L619.68,1169.79 L621.19,1169.93 L622.69,1170.07 L624.2,1170.2 L625.7,1170.33 L627.21,1170.45 L628.71,1170.57 L630.21,1170.69 L631.72,1170.8 L633.22,1170.91 L634.72,1171.02 L636.21,1171.13 L637.71,1171.23 L639.21,1171.33 L640.71,1171.43 L642.2,1171.52 L643.7,1171.62 L645.19,1171.71 L646.68,1171.8 L648.18,1171.88 L649.67,1171.97 L651.16,1172.06 L652.65,1172.14 L654.14,1172.23 L655.63,1172.31 L657.12,1172.39 L658.61,1172.47 L660.1,1172.56 L661.59,1172.64 L663.08,1172.72 L664.56,1172.8 L666.05,1172.88 L667.54,1172.97 L669.03,1173.05 L670.51,1173.14 L672,1173.22 L673.48,1173.31 L674.97,1173.4 L676.46,1173.49 L677.94,1173.58 L679.43,1173.67 L680.91,1173.77 L682.4,1173.87 L683.88,1173.97 L685.37,1174.07 L686.85,1174.17 L688.34,1174.28 L689.82,1174.39 L691.31,1174.51 L692.8,1174.62 L694.28,1174.74 L695.77,1174.87 L697.25,1175 L698.74,1175.13 L700.23,1175.26 L701.71,1175.4 L703.2,1175.55 L704.69,1175.7 L706.18,1175.85 L707.67,1176.01 L709.16,1176.17 L710.65,1176.34 L712.14,1176.52 L713.63,1176.7 L715.12,1176.88 L716.61,1177.07 L718.1,1177.26 L719.59,1177.46 L721.09,1177.66 L722.58,1177.86 L724.07,1178.07 L725.57,1178.28 L727.06,1178.49 L728.56,1178.7 L730.05,1178.91 L731.55,1179.13 L733.04,1179.34 L734.54,1179.56 L736.03,1179.78 L737.53,1179.99 L739.03,1180.21 L740.52,1180.42 L742.02,1180.64 L743.52,1180.85 L745.02,1181.06 L746.52,1181.27 L748.01,1181.47 L749.51,1181.68 L751.01,1181.88 L752.51,1182.07 L754.01,1182.27 L755.51,1182.45 L757.01,1182.64 L758.51,1182.82 L760.01,1182.99 L761.51,1183.16 L763.01,1183.33 L764.51,1183.48 L766,1183.64 L767.5,1183.78 L769,1183.92 L770.5,1184.05 L772.01,1184.17 L773.51,1184.28 L775.01,1184.39 L776.51,1184.49 L778.01,1184.58 L779.51,1184.66 L781.01,1184.73 L782.51,1184.79 L784.01,1184.84 L785.51,1184.88 L787,1184.9 L788.5,1184.92 L790,1184.93 L791.5,1184.92 L793,1184.9 L794.5,1184.87 L796,1184.82 L797.5,1184.77 L799,1184.7 L800.5,1184.61 L801.99,1184.51 L803.49,1184.4 L804.99,1184.27 L806.49,1184.13 L807.99,1183.97" fill="none" stroke="#f00000" stroke-width="5.5" stroke-linejoin="round" stroke-linecap="round" stroke-dasharray="19.5 31.5"/>
<path d="M64.92,1163.3 L66.45,1163.42 L67.98,1163.54 L69.51,1163.67 L71.03,1163.8 L72.55,1163.92 L74.07,1164.05 L75.59,1164.18 L77.1,1164.32 L78.61,1164.45 L80.12,1164.58 L81.62,1164.71 L83.12,1164.85 L84.62,1164.98 L86.12,1165.12 L87.62,1165.25 L89.11,1165.38 L90.61,1165.52 L92.1,1165.65 L93.59,1165.78 L95.07,1165.91 L96.56,1166.05 L98.05,1166.18 L99.53,1166.31 L101.01,1166.43 L102.5,1166.56 L103.98,1166.69 L105.46,1166.81 L106.94,1166.94 L108.41,1167.06 L109.89,1167.18 L111.37,1167.29 L112.85,1167.41 L114.32,1167.52 L115.8,1167.63 L117.28,1167.74 L118.75,1167.85 L120.23,1167.95 L121.71,1168.05 L123.18,1168.14 L124.66,1168.24 L126.14,1168.33 L127.62,1168.42 L129.1,1168.5 L130.58,1168.58 L132.06,1168.66 L133.54,1168.73 L135.03,1168.8 L136.51,1168.86 L138,1168.93 L139.48,1168.98 L140.97,1169.03 L142.46,1169.08 L143.95,1169.12 L145.45,1169.16 L146.94,1169.19 L148.44,1169.22 L149.94,1169.24 L151.44,1169.26 L152.94,1169.27 L154.45,1169.28 L155.95,1169.28 L157.46,1169.28 L158.98,1169.26 L160.49,1169.25 L162.01,1169.22 L163.53,1169.19 L165.06,1169.16 L166.59,1169.12 L168.12,1169.07 L169.65,1169.01 L171.19,1168.95 L172.73,1168.88 L174.27,1168.8 L175.82,1168.72 L177.37,1168.62 L178.93,1168.53 L180.49,1168.42 L182.05,1168.3 L183.61,1168.18 L185.18,1168.04 L186.74,1167.88 L188.29,1167.7 L189.84,1167.5 L191.37,1167.28 L192.9,1167.03 L194.41,1166.75 L195.9,1166.44 L197.38,1166.1 L198.83,1165.71 L200.27,1165.29 L201.67,1164.82 L203.05,1164.31 L204.4,1163.74 L205.72,1163.13 L207,1162.47 L208.25,1161.75 L209.47,1160.98 L210.66,1160.17 L211.82,1159.31 L212.95,1158.4 L214.05,1157.46 L215.12,1156.48 L216.17,1155.46 L217.19,1154.41 L218.19,1153.32 L219.16,1152.21 L220.12,1151.06 L221.05,1149.89 L221.97,1148.7 L222.86,1147.49 L223.74,1146.25 L224.6,1145.01 L225.45,1143.74 L226.28,1142.46 L227.1,1141.18 L227.9,1139.88 L228.7,1138.58 L229.48,1137.28 L230.26,1135.97 L231.02,1134.65 L231.77,1133.34 L232.52,1132.02 L233.25,1130.7 L233.98,1129.37 L234.69,1128.04 L235.4,1126.7 L236.1,1125.37 L236.79,1124.03 L237.47,1122.68 L238.14,1121.34 L238.8,1119.99 L239.45,1118.63 L240.09,1117.28 L240.73,1115.92 L241.36,1114.55 L241.98,1113.19 L242.59,1111.82 L243.19,1110.45 L243.79,1109.07 L244.37,1107.7 L244.95,1106.32 L245.53,1104.93 L246.09,1103.55 L246.65,1102.16 L247.2,1100.77 L247.74,1099.38 L248.28,1097.98 L248.81,1096.58 L249.33,1095.18 L249.84,1093.78 L250.35,1092.37 L250.86,1090.96 L251.35,1089.55 L251.84,1088.14 L252.32,1086.72 L252.8,1085.31 L253.27,1083.89 L253.74,1082.46 L254.2,1081.04 L254.65,1079.62 L255.1,1078.19 L255.55,1076.76 L255.99,1075.33 L256.42,1073.89 L256.85,1072.46 L257.27,1071.02 L257.69,1069.58 L258.1,1068.14 L258.51,1066.7 L258.92,1065.25 L259.32,1063.81 L259.71,1062.36 L260.1,1060.91 L260.49,1059.46 L260.88,1058.01 L261.25,1056.56 L261.63,1055.11 L262,1053.65 L262.37,1052.19 L262.74,1050.74 L263.1,1049.28 L263.46,1047.82 L263.82,1046.35 L264.17,1044.89 L264.52,1043.43 L264.87,1041.96 L265.21,1040.5 L265.55,1039.03 L265.89,1037.57 L266.23,1036.1 L266.56,1034.63 L266.9,1033.16 L267.23,1031.69 L267.56,1030.22 L267.89,1028.75 L268.21,1027.27 L268.54,1025.8 L268.86,1024.33 L269.18,1022.86 L269.5,1021.38 L269.82,1019.91 L270.14,1018.43 L270.46,1016.96 L270.77,1015.48 L271.09,1014.01 L271.4,1012.53 L271.72,1011.06 L272.03,1009.58 L272.35,1008.1 L272.66,1006.63 L272.98,1005.15 L273.29,1003.68 L273.6,1002.2 L273.92,1000.73 L274.23,999.25 L274.55,997.78 L274.87,996.3 L275.18,994.83 L275.5,993.35 L275.82,991.88 L276.14,990.4 L276.46,988.93 L276.78,987.46 L277.11,985.99 L277.43,984.52 L277.76,983.04 L278.08,981.57 L278.41,980.1 L278.74,978.63 L279.06,977.16 L279.39,975.69 L279.72,974.22 L280.05,972.76 L280.39,971.29 L280.72,969.82 L281.05,968.35 L281.38,966.88 L281.72,965.42 L282.05,963.95 L282.39,962.48 L282.73,961.02 L283.06,959.55 L283.4,958.09 L283.74,956.62 L284.08,955.16 L284.42,953.69 L284.76,952.23 L285.1,950.76 L285.44,949.3 L285.79,947.84 L286.13,946.37 L286.47,944.91 L286.82,943.45 L287.16,941.99 L287.51,940.52 L287.85,939.06 L288.2,937.6 L288.54,936.14 L288.89,934.68 L289.24,933.22 L289.58,931.76 L289.93,930.29 L290.28,928.83 L290.63,927.37 L290.98,925.91 L291.32,924.45 L291.67,923 L292.02,921.54 L292.37,920.08 L292.72,918.62 L293.07,917.16 L293.42,915.7 L293.77,914.24 L294.13,912.78 L294.48,911.33 L294.83,909.87 L295.18,908.41 L295.53,906.95 L295.88,905.5 L296.23,904.04 L296.58,902.58 L296.94,901.12 L297.29,899.67 L297.64,898.21 L297.99,896.75 L298.34,895.3 L298.7,893.84 L299.05,892.38 L299.4,890.93 L299.75,889.47 L300.1,888.02 L300.45,886.56 L300.8,885.1 L301.16,883.65 L301.51,882.19 L301.86,880.74 L302.21,879.28 L302.56,877.83 L302.91,876.37 L303.26,874.91 L303.61,873.46 L303.96,872 L304.31,870.55 L304.66,869.09 L305.01,867.64 L305.35,866.18 L305.7,864.73 L306.05,863.27 L306.4,861.82 L306.74,860.36 L307.09,858.91 L307.44,857.45 L307.78,856 L308.13,854.54 L308.47,853.08 L308.82,851.63 L309.16,850.17 L309.51,848.72 L309.85,847.26 L310.19,845.81 L310.53,844.35 L310.87,842.9 L311.21,841.44 L311.55,839.98 L311.89,838.53 L312.23,837.07 L312.56,835.61 L312.89,834.15 L313.22,832.7 L313.55,831.24 L313.88,829.77 L314.2,828.31 L314.52,826.85 L314.84,825.39 L315.15,823.92 L315.46,822.46 L315.77,820.99 L316.07,819.52 L316.37,818.05 L316.67,816.58 L316.96,815.1 L317.25,813.63 L317.53,812.15 L317.81,810.67 L318.08,809.19 L318.35,807.71 L318.61,806.22 L318.87,804.74 L319.12,803.25 L319.37,801.76 L319.61,800.26 L319.84,798.77 L320.07,797.27 L320.29,795.76 L320.51,794.26 L320.71,792.75 L320.92,791.24 L321.11,789.73 L321.3,788.22 L321.49,786.7 L321.67,785.18 L321.86,783.66 L322.05,782.14 L322.25,780.62 L322.46,779.1 L322.67,777.58 L322.89,776.07 L323.13,774.55 L323.39,773.04 L323.66,771.53 L323.95,770.02 L324.26,768.51 L324.6,767.01 L324.96,765.52 L325.35,764.03 L325.77,762.54 L326.22,761.06 L326.7,759.59 L327.22,758.12 L327.77,756.67 L328.36,755.21 L329,753.77 L329.68,752.33 L330.4,750.91 L331.17,749.51 L331.97,748.19 L332.8,746.96 L333.65,745.88 L334.52,744.98 L335.4,744.3 L336.28,743.87 L337.16,743.73 L338.03,743.91 L338.89,744.39 L339.72,745.1 L340.54,746.02 L341.33,747.08 L342.09,748.25 L342.82,749.48 L343.52,750.73 L344.19,752.01 L344.83,753.3 L345.43,754.62 L346.01,755.97 L346.56,757.33 L347.09,758.71 L347.59,760.1 L348.06,761.52 L348.52,762.94 L348.95,764.39 L349.37,765.84 L349.77,767.31 L350.15,768.79 L350.51,770.28 L350.86,771.77 L351.19,773.28 L351.52,774.79 L351.83,776.31 L352.14,777.83 L352.43,779.36 L352.72,780.89 L353,782.42 L353.28,783.95 L353.55,785.48 L353.83,787.01 L354.1,788.53 L354.37,790.06 L354.63,791.58 L354.9,793.1 L355.16,794.62 L355.43,796.14 L355.69,797.66 L355.95,799.17 L356.2,800.68 L356.46,802.19 L356.71,803.7 L356.97,805.21 L357.22,806.72 L357.47,808.22 L357.72,809.73 L357.96,811.23 L358.21,812.73 L358.45,814.23 L358.7,815.73 L358.94,817.22 L359.18,818.72 L359.42,820.21 L359.66,821.71 L359.89,823.2 L360.13,824.69 L360.37,826.18 L360.6,827.67 L360.83,829.15 L361.06,830.64 L361.3,832.12 L361.53,833.61 L361.75,835.09 L361.98,836.57 L362.21,838.05 L362.44,839.53 L362.66,841.01 L362.89,842.49 L363.11,843.96 L363.34,845.44 L363.56,846.91 L363.78,848.39 L364,849.86 L364.22,851.33 L364.44,852.8 L364.66,854.28 L364.88,855.75 L365.1,857.22 L365.32,858.69 L365.54,860.15 L365.76,861.62 L365.98,863.09 L366.19,864.56 L366.41,866.02 L366.63,867.49 L366.84,868.95 L367.06,870.42 L367.27,871.88 L367.49,873.35 L367.71,874.81 L367.92,876.28 L368.14,877.74 L368.35,879.2 L368.57,880.66 L368.78,882.13 L369,883.59 L369.21,885.05 L369.43,886.51 L369.65,887.98 L369.86,889.44 L370.08,890.9 L370.3,892.36 L370.51,893.82 L370.73,895.28 L370.95,896.75 L371.16,898.21 L371.38,899.67 L371.6,901.13 L371.82,902.59 L372.04,904.06 L372.26,905.52 L372.48,906.99 L372.71,908.45 L372.93,909.92 L373.16,911.4 L373.39,912.87 L373.62,914.35 L373.86,915.83 L374.09,917.32 L374.33,918.81 L374.58,920.31 L374.83,921.81 L375.08,923.32 L375.33,924.83 L375.59,926.35 L375.86,927.88 L376.13,929.41 L376.4,930.95 L376.68,932.5 L376.97,934.06 L377.26,935.62 L377.55,937.2 L377.86,938.78 L378.17,940.38 L378.48,941.98 L378.81,943.6 L379.14,945.22 L379.49,946.84 L379.86,948.44 L380.25,950.03 L380.67,951.6 L381.12,953.13 L381.61,954.62 L382.15,956.06 L382.73,957.45 L383.36,958.78 L384.04,960.04 L384.78,961.21 L385.58,962.28 L386.41,963.23 L387.29,964.03 L388.19,964.65 L389.12,965.09 L390.07,965.32 L391.04,965.32 L392,965.09 L392.94,964.68 L393.86,964.11 L394.72,963.4 L395.52,962.59 L396.27,961.68 L396.96,960.67 L397.61,959.57 L398.21,958.39 L398.76,957.14 L399.28,955.81 L399.76,954.43 L400.21,952.98 L400.63,951.49 L401.02,949.96 L401.39,948.39 L401.74,946.79 L402.07,945.16 L402.39,943.53 L402.7,941.88 L403,940.23 L403.3,938.58 L403.6,936.94 L403.9,935.32 L404.2,933.71 L404.51,932.1 L404.81,930.51 L405.11,928.93 L405.41,927.36 L405.71,925.8 L406.01,924.25 L406.32,922.71 L406.62,921.18 L406.92,919.65 L407.22,918.14 L407.51,916.63 L407.81,915.13 L408.11,913.63 L408.4,912.15 L408.69,910.67 L408.98,909.19 L409.27,907.72 L409.56,906.26 L409.84,904.8 L410.12,903.35 L410.4,901.9 L410.68,900.45 L410.95,899.01 L411.22,897.57 L411.49,896.14 L411.76,894.7 L412.02,893.27 L412.27,891.84 L412.53,890.41 L412.78,888.99 L413.02,887.56 L413.27,886.14 L413.5,884.71 L413.74,883.29 L413.96,881.86 L414.19,880.43 L414.41,879.01 L414.62,877.58 L414.83,876.14 L415.03,874.71 L415.23,873.27 L415.42,871.83 L415.61,870.39 L415.79,868.94 L415.96,867.49 L416.13,866.04 L416.29,864.58 L416.44,863.11 L416.59,861.64 L416.73,860.16 L416.87,858.68 L416.99,857.19 L417.11,855.7 L417.23,854.19 L417.34,852.69 L417.44,851.17 L417.55,849.65 L417.65,848.12 L417.76,846.59 L417.87,845.05 L417.99,843.51 L418.11,841.97 L418.24,840.42 L418.39,838.86 L418.54,837.31 L418.71,835.75 L418.9,834.18 L419.1,832.62 L419.33,831.05 L419.57,829.48 L419.84,827.91 L420.13,826.34 L420.44,824.77 L420.79,823.2 L421.16,821.62 L421.56,820.05 L422,818.48 L422.47,816.91 L422.98,815.36 L423.54,813.86 L424.15,812.43 L424.81,811.1 L425.53,809.9 L426.33,808.86 L427.19,807.99 L428.14,807.33 L429.17,806.9 L430.27,806.71 L431.43,806.72 L432.59,806.91 L433.75,807.25 L434.87,807.72 L435.93,808.3 L436.92,808.97 L437.86,809.73 L438.74,810.57 L439.56,811.5 L440.34,812.51 L441.06,813.59 L441.74,814.73 L442.38,815.94 L442.97,817.21 L443.53,818.53 L444.06,819.9 L444.55,821.31 L445.02,822.76 L445.46,824.25 L445.88,825.77 L446.28,827.31 L446.66,828.88 L447.03,830.46 L447.39,832.05 L447.74,833.65 L448.08,835.25 L448.42,836.85 L448.76,838.44 L449.1,840.03 L449.44,841.61 L449.77,843.2 L450.11,844.78 L450.44,846.35 L450.77,847.92 L451.1,849.49 L451.43,851.05 L451.76,852.61 L452.09,854.17 L452.41,855.72 L452.74,857.27 L453.06,858.81 L453.38,860.36 L453.71,861.9 L454.03,863.43 L454.35,864.97 L454.67,866.49 L454.98,868.02 L455.3,869.54 L455.62,871.07 L455.94,872.58 L456.25,874.1 L456.57,875.61 L456.88,877.12 L457.2,878.62 L457.51,880.13 L457.82,881.63 L458.14,883.13 L458.45,884.62 L458.76,886.11 L459.08,887.6 L459.39,889.09 L459.7,890.58 L460.01,892.06 L460.33,893.54 L460.64,895.02 L460.95,896.5 L461.26,897.97 L461.57,899.44 L461.89,900.91 L462.2,902.38 L462.51,903.85 L462.82,905.31 L463.14,906.77 L463.45,908.23 L463.77,909.69 L464.08,911.15 L464.39,912.61 L464.71,914.06 L465.03,915.51 L465.34,916.96 L465.66,918.41 L465.98,919.86 L466.3,921.3 L466.62,922.75 L466.94,924.19 L467.26,925.63 L467.58,927.07 L467.9,928.51 L468.23,929.95 L468.55,931.39 L468.88,932.83 L469.2,934.26 L469.53,935.7 L469.86,937.13 L470.19,938.56 L470.52,940 L470.86,941.43 L471.19,942.86 L471.53,944.29 L471.86,945.72 L472.2,947.15 L472.54,948.57 L472.88,950 L473.23,951.43 L473.57,952.86 L473.92,954.28 L474.27,955.71 L474.62,957.14 L474.97,958.56 L475.32,959.99 L475.68,961.41 L476.03,962.84 L476.39,964.27 L476.75,965.69 L477.12,967.12 L477.48,968.54 L477.85,969.97 L478.22,971.4 L478.59,972.82 L478.97,974.25 L479.34,975.68 L479.72,977.11 L480.1,978.54 L480.48,979.97 L480.87,981.39 L481.26,982.83 L481.65,984.26 L482.04,985.69 L482.44,987.12 L482.84,988.55 L483.24,989.99 L483.64,991.42 L484.05,992.86 L484.46,994.3 L484.87,995.73 L485.29,997.17 L485.7,998.61 L486.13,1000.05 L486.55,1001.49 L486.98,1002.93 L487.41,1004.37 L487.84,1005.81 L488.28,1007.25 L488.72,1008.7 L489.16,1010.14 L489.61,1011.58 L490.05,1013.02 L490.51,1014.46 L490.96,1015.91 L491.42,1017.35 L491.89,1018.79 L492.35,1020.23 L492.82,1021.67 L493.29,1023.11 L493.77,1024.55 L494.25,1025.99 L494.74,1027.43 L495.22,1028.87 L495.71,1030.31 L496.21,1031.75 L496.71,1033.18 L497.21,1034.62 L497.72,1036.05 L498.23,1037.48 L498.74,1038.92 L499.26,1040.35 L499.78,1041.78 L500.31,1043.21 L500.84,1044.63 L501.38,1046.06 L501.91,1047.48 L502.46,1048.91 L503,1050.33 L503.56,1051.75 L504.11,1053.17 L504.67,1054.58 L505.24,1056 L505.81,1057.41 L506.38,1058.82 L506.96,1060.23 L507.54,1061.64 L508.13,1063.04 L508.72,1064.44 L509.31,1065.85 L509.91,1067.24 L510.52,1068.64 L511.13,1070.03 L511.75,1071.42 L512.37,1072.81 L512.99,1074.2 L513.62,1075.58 L514.25,1076.96 L514.89,1078.34 L515.54,1079.71 L516.19,1081.09 L516.84,1082.45 L517.5,1083.82 L518.17,1085.18 L518.84,1086.54 L519.51,1087.9 L520.19,1089.25 L520.88,1090.6 L521.57,1091.95 L522.26,1093.29 L522.97,1094.63 L523.67,1095.97 L524.39,1097.3 L525.1,1098.63 L525.83,1099.95 L526.56,1101.27 L527.29,1102.59 L528.03,1103.9 L528.78,1105.21 L529.53,1106.52 L530.29,1107.82 L531.05,1109.12 L531.82,1110.41 L532.6,1111.7 L533.38,1112.98 L534.17,1114.26 L534.96,1115.54 L535.76,1116.81 L536.56,1118.07 L537.37,1119.33 L538.19,1120.59 L539.01,1121.84 L539.84,1123.09 L540.68,1124.33 L541.52,1125.57 L542.37,1126.8 L543.23,1128.03 L544.09,1129.25 L544.96,1130.46 L545.83,1131.68 L546.71,1132.88 L547.6,1134.08 L548.49,1135.28 L549.39,1136.47 L550.3,1137.65 L551.21,1138.82 L552.14,1139.99 L553.07,1141.15 L554,1142.3 L554.95,1143.44 L555.91,1144.58 L556.87,1145.7 L557.84,1146.8 L558.83,1147.9 L559.82,1148.98 L560.82,1150.05 L561.84,1151.11 L562.86,1152.15 L563.9,1153.18 L564.94,1154.19 L566,1155.18 L567.07,1156.16 L568.15,1157.12 L569.25,1158.05 L570.36,1158.98 L571.48,1159.88 L572.61,1160.76 L573.76,1161.62 L574.92,1162.45 L576.1,1163.27 L577.28,1164.06 L578.49,1164.83 L579.71,1165.57 L580.94,1166.29 L582.19,1166.99 L583.46,1167.65 L584.74,1168.29 L586.04,1168.91 L587.36,1169.5 L588.69,1170.06 L590.03,1170.59 L591.39,1171.1 L592.76,1171.59 L594.15,1172.06 L595.55,1172.5 L596.96,1172.92 L598.39,1173.32 L599.82,1173.7 L601.27,1174.05 L602.73,1174.39 L604.19,1174.71 L605.67,1175.01 L607.16,1175.3 L608.65,1175.57 L610.16,1175.82 L611.67,1176.05 L613.19,1176.27 L614.71,1176.48 L616.25,1176.68 L617.79,1176.86 L619.33,1177.02 L620.88,1177.18 L622.44,1177.33 L623.99,1177.46 L625.56,1177.59 L627.12,1177.7 L628.69,1177.81 L630.26,1177.91 L631.83,1178.01 L633.41,1178.09 L634.98,1178.17 L636.56,1178.25 L638.14,1178.32 L639.71,1178.39 L641.29,1178.45 L642.86,1178.51 L644.43,1178.57 L646,1178.63 L647.57,1178.69 L649.13,1178.75 L650.69,1178.81 L652.25,1178.87 L653.8,1178.93 L655.34,1178.99 L656.89,1179.05 L658.43,1179.12 L659.97,1179.18 L661.5,1179.25 L663.03,1179.31 L664.55,1179.38 L666.08,1179.45 L667.6,1179.52 L669.11,1179.59 L670.63,1179.66 L672.14,1179.73 L673.64,1179.81 L675.15,1179.88 L676.65,1179.95 L678.15,1180.03 L679.65,1180.1 L681.14,1180.17 L682.63,1180.25 L684.12,1180.33 L685.61,1180.4 L687.09,1180.48 L688.58,1180.55 L690.06,1180.63 L691.54,1180.7 L693.02,1180.78 L694.49,1180.86 L695.97,1180.93 L697.44,1181.01 L698.91,1181.09 L700.38,1181.16 L701.85,1181.24 L703.31,1181.31 L704.78,1181.39 L706.24,1181.46 L707.71,1181.53 L709.17,1181.61 L710.63,1181.68 L712.1,1181.75 L713.56,1181.83 L715.02,1181.9 L716.48,1181.97 L717.94,1182.04 L719.4,1182.11 L720.85,1182.18 L722.31,1182.24 L723.77,1182.31 L725.23,1182.37 L726.69,1182.44 L728.15,1182.5 L729.61,1182.56 L731.07,1182.63 L732.53,1182.69 L733.99,1182.74 L735.45,1182.8 L736.91,1182.86 L738.37,1182.91 L739.84,1182.97 L741.3,1183.02 L742.77,1183.07 L744.24,1183.12 L745.7,1183.17 L747.17,1183.21 L748.64,1183.26 L750.12,1183.3 L751.59,1183.34 L753.06,1183.38 L754.54,1183.41 L756.02,1183.45 L757.5,1183.48 L758.98,1183.51 L760.47,1183.54 L761.96,1183.57 L763.44,1183.59 L764.94,1183.62 L766.43,1183.64 L767.93,1183.66 L769.42,1183.67 L770.93,1183.68 L772.43,1183.7 L773.94,1183.7 L775.45,1183.71 L776.96,1183.71 L778.47,1183.71 L779.99,1183.71 L781.52,1183.71 L783.04,1183.7 L784.57,1183.69 L786.1,1183.68 L787.64,1183.66 L789.18,1183.65 L790.72,1183.62 L792.27,1183.6 L793.82,1183.57 L795.37,1183.54 L796.93,1183.51 L798.49,1183.47 L800.06,1183.43 L801.63,1183.39 L803.21,1183.34 L804.79,1183.29 L806.37,1183.24 L807.96,1183.18 L809.56,1183.12" fill="none" stroke="#000" stroke-width="3.8" stroke-linejoin="round" stroke-linecap="round"/>
<rect x="64.5" y="688" width="746.3" height="555" fill="none" stroke="#000" stroke-width="2" stroke-linejoin="miter"/>
<text x="791.54" y="1272.87" font-size="23" text-anchor="start">276</text>
<line x1="769.35" y1="1243" x2="769.35" y2="1237" stroke="#000" stroke-width="2" stroke-linecap="butt"/>
<line x1="727.9" y1="1243" x2="727.9" y2="1232" stroke="#000" stroke-width="2" stroke-linecap="butt"/>
<text x="708.64" y="1272.87" font-size="23" text-anchor="start">278</text>
<line x1="686.45" y1="1243" x2="686.45" y2="1237" stroke="#000" stroke-width="2" stroke-linecap="butt"/>
<line x1="645" y1="1243" x2="645" y2="1232" stroke="#000" stroke-width="2" stroke-linecap="butt"/>
<text x="625.68" y="1272.87" font-size="23" text-anchor="start">280</text>
<line x1="603.55" y1="1243" x2="603.55" y2="1237" stroke="#000" stroke-width="2" stroke-linecap="butt"/>
<line x1="562.1" y1="1243" x2="562.1" y2="1232" stroke="#000" stroke-width="2" stroke-linecap="butt"/>
<text x="542.95" y="1272.87" font-size="23" text-anchor="start">282</text>
<line x1="520.65" y1="1243" x2="520.65" y2="1237" stroke="#000" stroke-width="2" stroke-linecap="butt"/>
<line x1="479.2" y1="1243" x2="479.2" y2="1232" stroke="#000" stroke-width="2" stroke-linecap="butt"/>
<text x="459.82" y="1272.87" font-size="23" text-anchor="start">284</text>
<line x1="437.75" y1="1243" x2="437.75" y2="1237" stroke="#000" stroke-width="2" stroke-linecap="butt"/>
<line x1="396.3" y1="1243" x2="396.3" y2="1232" stroke="#000" stroke-width="2" stroke-linecap="butt"/>
<text x="377.04" y="1272.87" font-size="23" text-anchor="start">286</text>
<line x1="354.85" y1="1243" x2="354.85" y2="1237" stroke="#000" stroke-width="2" stroke-linecap="butt"/>
<line x1="313.4" y1="1243" x2="313.4" y2="1232" stroke="#000" stroke-width="2" stroke-linecap="butt"/>
<text x="294.14" y="1272.87" font-size="23" text-anchor="start">288</text>
<line x1="271.95" y1="1243" x2="271.95" y2="1237" stroke="#000" stroke-width="2" stroke-linecap="butt"/>
<line x1="230.5" y1="1243" x2="230.5" y2="1232" stroke="#000" stroke-width="2" stroke-linecap="butt"/>
<text x="211.18" y="1272.87" font-size="23" text-anchor="start">290</text>
<line x1="189.05" y1="1243" x2="189.05" y2="1237" stroke="#000" stroke-width="2" stroke-linecap="butt"/>
<line x1="147.6" y1="1243" x2="147.6" y2="1232" stroke="#000" stroke-width="2" stroke-linecap="butt"/>
<text x="128.45" y="1272.87" font-size="23" text-anchor="start">292</text>
<line x1="106.15" y1="1243" x2="106.15" y2="1237" stroke="#000" stroke-width="2" stroke-linecap="butt"/>
<text x="45.32" y="1272.87" font-size="23" text-anchor="start">294</text>
<line x1="64.5" y1="727.5" x2="71" y2="727.5" stroke="#000" stroke-width="2" stroke-linecap="butt"/>
<line x1="64.5" y1="846.5" x2="76.5" y2="846.5" stroke="#000" stroke-width="2" stroke-linecap="butt"/>
<line x1="64.5" y1="965.5" x2="71" y2="965.5" stroke="#000" stroke-width="2" stroke-linecap="butt"/>
<line x1="64.5" y1="1084" x2="76.5" y2="1084" stroke="#000" stroke-width="2" stroke-linecap="butt"/>
<line x1="64.5" y1="1203.3" x2="71" y2="1203.3" stroke="#000" stroke-width="2" stroke-linecap="butt"/>
<text transform="translate(32.3,1080.68) rotate(-90) scale(0.9699,1)" font-size="29.57">Intensity (CPS)</text>
<text transform="translate(135.81,749.98) scale(1.0568,1)" font-size="22.46" fill="#000">C-O (287.5 eV)</text>
<text transform="translate(386.72,778.84) scale(1.0449,1)" font-size="22.67" fill="#000">C-C (285.0 eV)</text>
<text transform="translate(76.84,964.63) scale(1.0189,1)" font-size="23.21" fill="#000">O-C=O (288.5 eV)</text>
<text transform="translate(310.39,1318.44) scale(0.9993,1)" font-size="28.88" fill="#000">Binding energy (eV)</text>
<line x1="231.4" y1="756.1" x2="327.4" y2="797.54" stroke="#000" stroke-width="2" stroke-linecap="butt"/>
<path d="M337.5,801.9 L323.78,800.88 L327.35,792.62 Z" fill="#000"/>
<line x1="485.8" y1="785.5" x2="442.01" y2="864.87" stroke="#000" stroke-width="2" stroke-linecap="butt"/>
<path d="M436.7,874.5 L439.04,860.94 L446.92,865.29 Z" fill="#000"/>
<line x1="189.7" y1="981.5" x2="273" y2="1044" stroke="#000" stroke-width="2" stroke-linecap="butt"/>
<path d="M281.8,1050.6 L268.7,1046.4 L274.1,1039.2 Z" fill="#000"/>
<path d="M918.8,761 C920.22,766.83 924.32,784.87 927.3,796 C930.28,807.13 933.58,817.63 936.7,827.8 C939.82,837.97 943.7,850.38 946,857 C948.3,863.62 948.93,864.7 950.5,867.5 C952.07,870.3 953.82,873.13 955.4,873.8 C956.98,874.47 958.65,872.88 960,871.5 C961.35,870.12 961.77,869.15 963.5,865.5 C965.23,861.85 968.02,851.78 970.4,849.6 C972.78,847.42 975.82,852.55 977.8,852.4 C979.78,852.25 980.92,850.95 982.3,848.7 C983.68,846.45 985.1,842.65 986.1,838.9 C987.1,835.15 987.68,830.82 988.3,826.2 C988.92,821.58 989.32,816.07 989.8,811.2 C990.28,806.33 990.58,803.03 991.2,797 C991.82,790.97 992.77,781.33 993.5,775 C994.23,768.67 994.47,759.55 995.6,759 C996.73,758.45 998.92,763.52 1000.3,771.7 C1001.68,779.88 1002.82,790.68 1003.9,808.1 C1004.98,825.52 1005.83,851.88 1006.8,876.2 C1007.77,900.52 1008.98,931.22 1009.7,954 C1010.42,976.78 1010.47,996.22 1011.1,1012.9 C1011.73,1029.58 1012.55,1041.75 1013.5,1054.1 C1014.45,1066.45 1015.57,1076.02 1016.8,1087 C1018.03,1097.98 1019.12,1109.02 1020.9,1120 C1022.68,1130.98 1025.3,1144.4 1027.5,1152.9 C1029.7,1161.4 1032.12,1167.28 1034.1,1171 C1036.08,1174.72 1037.48,1175.75 1039.4,1175.2 C1041.32,1174.65 1043.47,1171.97 1045.6,1167.7 C1047.73,1163.43 1050,1157 1052.2,1149.6 C1054.4,1142.2 1056.6,1133.73 1058.8,1123.3 C1061,1112.87 1063.2,1099.9 1065.4,1087 C1067.6,1074.1 1070.08,1059.07 1072,1045.9 C1073.92,1032.73 1075.4,1019.82 1076.9,1008 C1078.4,996.18 1079.87,984.67 1081,975 C1082.13,965.33 1082.93,963.23 1083.7,950 C1084.47,936.77 1084.97,914.38 1085.6,895.6 C1086.23,876.82 1086.85,855.13 1087.5,837.3 C1088.15,819.47 1088.78,799.47 1089.5,788.6 C1090.22,777.73 1090.83,772.75 1091.8,772.1 C1092.77,771.45 1094.07,778.7 1095.3,784.7 C1096.53,790.7 1097.9,800.63 1099.2,808.1 C1100.5,815.57 1101.97,821.4 1103.1,829.5 C1104.23,837.6 1105.18,849.57 1106,856.7 C1106.82,863.83 1107.5,865.82 1108,872.3 C1108.5,878.78 1108.35,886.85 1109,895.6 C1109.65,904.35 1110.93,915.72 1111.9,924.8 C1112.87,933.88 1113.87,942.8 1114.8,950.1 C1115.73,957.4 1116.53,967.95 1117.5,968.6 C1118.47,969.25 1119.43,960 1120.6,954 C1121.77,948 1123.2,940.7 1124.5,932.6 C1125.8,924.5 1127.1,914.8 1128.4,905.4 C1129.7,896 1131,889.18 1132.3,876.2 C1133.6,863.22 1134.9,842.42 1136.2,827.5 C1137.5,812.58 1138.87,796.1 1140.1,786.7 C1141.33,777.3 1142.3,772.4 1143.6,771.1 C1144.9,769.8 1146.22,773.7 1147.9,778.9 C1149.58,784.1 1151.43,794.83 1153.7,802.3 C1155.97,809.77 1158.9,817.55 1161.5,823.7 C1164.1,829.85 1166.72,835.48 1169.3,839.2 C1171.88,842.92 1174.42,845.67 1177,846 C1179.58,846.33 1182.52,845.25 1184.8,841.2 C1187.08,837.15 1189.07,828.18 1190.7,821.7 C1192.33,815.22 1193.57,807 1194.6,802.3 C1195.63,797.6 1196.1,793.18 1196.9,793.5 C1197.7,793.82 1198.65,799.17 1199.4,804.2 C1200.15,809.23 1200.75,822.73 1201.4,823.7 C1202.05,824.67 1202.5,813.57 1203.3,810 C1204.1,806.43 1204.9,804.08 1206.2,802.3 C1207.5,800.52 1209.15,799.3 1211.1,799.3 C1213.05,799.3 1214.82,800.18 1217.9,802.3 C1220.98,804.42 1225.07,808.43 1229.6,812 C1234.13,815.57 1239.6,820.78 1245.1,823.7 C1250.6,826.62 1256.43,829.18 1262.6,829.5 C1268.77,829.82 1275.93,827.77 1282.1,825.6 C1288.27,823.43 1294.35,819.27 1299.6,816.5 C1304.85,813.73 1308.53,811.78 1313.6,809 C1318.67,806.22 1324.38,802.88 1330,799.8 C1335.62,796.72 1341.63,793.42 1347.3,790.5 C1352.97,787.58 1358.4,784.92 1364,782.3 C1369.6,779.68 1374.72,777.18 1380.9,774.8 C1387.08,772.42 1395.87,768.93 1401.1,768 C1406.33,767.07 1409.5,767.13 1412.3,769.2 C1415.1,771.27 1416.4,774.8 1417.9,780.4 C1419.4,786 1420.17,794.58 1421.3,802.8 C1422.43,811.02 1423.4,821.85 1424.7,829.7 C1426,837.55 1427.43,845.23 1429.1,849.9 C1430.77,854.57 1432.88,856.77 1434.7,857.7 C1436.52,858.63 1438.12,856.05 1440,855.5 C1441.88,854.95 1444.07,853.47 1446,854.4 C1447.93,855.33 1449.55,859.8 1451.6,861.1 C1453.65,862.4 1455.13,863.7 1458.3,862.2 C1461.47,860.7 1466.3,855.83 1470.6,852.1 C1474.9,848.37 1479.98,842.6 1484.1,839.8 C1488.22,837 1491.57,835.3 1495.3,835.3 C1499.03,835.3 1503.52,836.62 1506.5,839.8 C1509.48,842.98 1511.15,848.6 1513.2,854.4 C1515.25,860.2 1516.93,866.38 1518.8,874.6 C1520.67,882.82 1522.7,893.63 1524.4,903.7 C1526.1,913.77 1527.57,925.28 1529,935 C1530.43,944.72 1531.6,951.6 1533,962 C1534.4,972.4 1535.67,985.25 1537.4,997.4 C1539.13,1009.55 1541.4,1023.67 1543.4,1034.9 C1545.4,1046.13 1547.15,1054.33 1549.4,1064.8 C1551.65,1075.27 1554.65,1088.22 1556.9,1097.7 C1559.15,1107.18 1560.85,1115.83 1562.9,1121.7 C1564.95,1127.57 1566.97,1132.9 1569.2,1132.9 C1571.43,1132.9 1574.12,1128.07 1576.3,1121.7 C1578.48,1115.33 1580.55,1105.43 1582.3,1094.7 C1584.05,1083.97 1585.3,1069.77 1586.8,1057.3 C1588.3,1044.83 1589.8,1032.37 1591.3,1019.9 C1592.8,1007.43 1594.55,992.82 1595.8,982.5 C1597.05,972.18 1596.87,970.38 1598.8,958 C1600.73,945.62 1604.1,925.1 1607.4,908.2 C1610.7,891.3 1614.85,873.42 1618.6,856.6 C1622.35,839.78 1626.15,823 1629.9,807.3 C1633.65,791.6 1639.23,769.88 1641.1,762.4" fill="none" stroke="#000" stroke-width="4.2" stroke-linejoin="round" stroke-linecap="round"/>
<line x1="1106.3" y1="866" x2="1106.3" y2="879" stroke="#000" stroke-width="5.5" stroke-linecap="round"/>
<rect x="918.2" y="671.3" width="723.3" height="588.2" fill="none" stroke="#000" stroke-width="2" stroke-linejoin="miter"/>
<text x="898.16" y="1290.65" font-size="24.6" text-anchor="start">500</text>
<line x1="973.8" y1="1259.5" x2="973.8" y2="1254" stroke="#000" stroke-width="2" stroke-linecap="butt"/>
<line x1="1029.4" y1="1259.5" x2="1029.4" y2="1248.5" stroke="#000" stroke-width="2" stroke-linecap="butt"/>
<text x="1002.04" y="1290.65" font-size="24.6" text-anchor="start">1000</text>
<line x1="1085" y1="1259.5" x2="1085" y2="1254" stroke="#000" stroke-width="2" stroke-linecap="butt"/>
<line x1="1140.6" y1="1259.5" x2="1140.6" y2="1248.5" stroke="#000" stroke-width="2" stroke-linecap="butt"/>
<text x="1113.24" y="1290.65" font-size="24.6" text-anchor="start">1500</text>
<line x1="1196.2" y1="1259.5" x2="1196.2" y2="1254" stroke="#000" stroke-width="2" stroke-linecap="butt"/>
<line x1="1251.8" y1="1259.5" x2="1251.8" y2="1248.5" stroke="#000" stroke-width="2" stroke-linecap="butt"/>
<text x="1224.75" y="1290.65" font-size="24.6" text-anchor="start">2000</text>
<line x1="1307.4" y1="1259.5" x2="1307.4" y2="1254" stroke="#000" stroke-width="2" stroke-linecap="butt"/>
<line x1="1363" y1="1259.5" x2="1363" y2="1248.5" stroke="#000" stroke-width="2" stroke-linecap="butt"/>
<text x="1335.95" y="1290.65" font-size="24.6" text-anchor="start">2500</text>
<line x1="1418.6" y1="1259.5" x2="1418.6" y2="1254" stroke="#000" stroke-width="2" stroke-linecap="butt"/>
<line x1="1474.2" y1="1259.5" x2="1474.2" y2="1248.5" stroke="#000" stroke-width="2" stroke-linecap="butt"/>
<text x="1447.27" y="1290.65" font-size="24.6" text-anchor="start">3000</text>
<line x1="1529.8" y1="1259.5" x2="1529.8" y2="1254" stroke="#000" stroke-width="2" stroke-linecap="butt"/>
<line x1="1585.4" y1="1259.5" x2="1585.4" y2="1248.5" stroke="#000" stroke-width="2" stroke-linecap="butt"/>
<text x="1558.47" y="1290.65" font-size="24.6" text-anchor="start">3500</text>
<line x1="918.2" y1="1245" x2="924.7" y2="1245" stroke="#000" stroke-width="2" stroke-linecap="butt"/>
<line x1="918.2" y1="1200.9" x2="929.9" y2="1200.9" stroke="#000" stroke-width="2" stroke-linecap="butt"/>
<line x1="918.2" y1="1156.8" x2="924.7" y2="1156.8" stroke="#000" stroke-width="2" stroke-linecap="butt"/>
<line x1="918.2" y1="1112.7" x2="929.9" y2="1112.7" stroke="#000" stroke-width="2" stroke-linecap="butt"/>
<line x1="918.2" y1="1068.6" x2="924.7" y2="1068.6" stroke="#000" stroke-width="2" stroke-linecap="butt"/>
<line x1="918.2" y1="1024.5" x2="929.9" y2="1024.5" stroke="#000" stroke-width="2" stroke-linecap="butt"/>
<line x1="918.2" y1="980.4" x2="924.7" y2="980.4" stroke="#000" stroke-width="2" stroke-linecap="butt"/>
<line x1="918.2" y1="936.3" x2="929.9" y2="936.3" stroke="#000" stroke-width="2" stroke-linecap="butt"/>
<line x1="918.2" y1="892.2" x2="924.7" y2="892.2" stroke="#000" stroke-width="2" stroke-linecap="butt"/>
<line x1="918.2" y1="848.1" x2="929.9" y2="848.1" stroke="#000" stroke-width="2" stroke-linecap="butt"/>
<line x1="918.2" y1="804" x2="924.7" y2="804" stroke="#000" stroke-width="2" stroke-linecap="butt"/>
<line x1="918.2" y1="759.9" x2="929.9" y2="759.9" stroke="#000" stroke-width="2" stroke-linecap="butt"/>
<line x1="918.2" y1="715.8" x2="924.7" y2="715.8" stroke="#000" stroke-width="2" stroke-linecap="butt"/>
<line x1="918.2" y1="671.7" x2="929.9" y2="671.7" stroke="#000" stroke-width="2" stroke-linecap="butt"/>
<text x="877.95" y="1209.32" font-size="24.4" text-anchor="start">84</text>
<text x="878.44" y="1121.12" font-size="24.4" text-anchor="start">87</text>
<text x="878.07" y="1032.92" font-size="24.4" text-anchor="start">90</text>
<text x="878.19" y="944.72" font-size="24.4" text-anchor="start">93</text>
<text x="878.19" y="856.52" font-size="24.4" text-anchor="start">96</text>
<text x="878.31" y="768.32" font-size="24.4" text-anchor="start">99</text>
<text x="864.89" y="680.12" font-size="24.4" text-anchor="start">102</text>
<text transform="translate(942.78,715.59) scale(1.0406,1)" font-size="29.09" fill="#000">(d)</text>
<text transform="translate(1084.91,996.93) scale(0.9725,1)" font-size="27.32" fill="#000">1390</text>
<text transform="translate(1140.18,884.53) scale(0.9932,1)" font-size="27.18" fill="#000">1630</text>
<text transform="translate(1193.79,857.73) scale(0.9862,1)" font-size="27.18" fill="#000">1730</text>
<text transform="translate(866,1104.39) rotate(-90) scale(0.9644,1)" font-size="30.58">Transmittance (%)</text>
<text transform="translate(1150,1324.5) scale(1.066,1)" font-size="28">Wavenumber (cm<tspan font-size="16" dy="-12">-1</tspan><tspan dy="12">)</tspan></text>
</svg></body></html>
